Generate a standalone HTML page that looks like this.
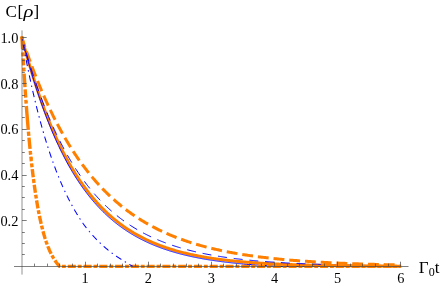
<!DOCTYPE html>
<html><head><meta charset="utf-8"><style>
html,body{margin:0;padding:0;background:#fff;}
svg{display:block;}
text{font-family:"Liberation Serif",serif;fill:#000;}
</style></head><body>
<svg width="441" height="287" viewBox="0 0 441 287">
<defs><clipPath id="cl"><rect x="0" y="0" width="325" height="287"/></clipPath><clipPath id="cr"><rect x="325" y="0" width="116" height="287"/></clipPath></defs>
<rect width="441" height="287" fill="#fff"/>
<path d="M242.12,263.89 L242.52,263.92 L242.92,263.96 L243.31,263.99 L243.71,264.03 L244.11,264.06 L244.51,264.10 L244.90,264.13 L245.30,264.16 L245.70,264.20 L246.10,264.23 L246.49,264.27 L246.89,264.30 L247.29,264.33 L247.69,264.36 L248.08,264.40 L248.48,264.43 L248.88,264.46 L249.28,264.49 L249.67,264.53 L250.07,264.56 L250.47,264.59 L250.87,264.62 L251.26,264.65 L251.66,264.68 L252.06,264.71 L252.46,264.74 L252.85,264.77 L253.25,264.80 L253.65,264.83 L254.05,264.86 L254.44,264.89 L254.84,264.92 L255.24,264.95 L255.64,264.97 L256.03,265.00 L256.43,265.03 L256.83,265.06 L257.23,265.09 L257.62,265.11 L258.02,265.14 L258.42,265.17 L258.82,265.20 L259.21,265.22 L259.61,265.25 L260.01,265.28 L260.41,265.30 L260.80,265.33 L261.20,265.35 L261.60,265.38 L262.00,265.41 L262.39,265.43 L262.79,265.46 L263.19,265.48 L263.59,265.51 L263.98,265.53 L264.38,265.56 L264.78,265.58 L265.18,265.60 L265.57,265.63 L265.97,265.65 L266.37,265.68 L266.77,265.70 L267.16,265.72 L267.56,265.75 L267.96,265.77 L268.36,265.79 L268.75,265.82 L269.15,265.84 L269.55,265.86 L269.95,265.88 L270.34,265.91 L270.74,265.93 L271.14,265.95 L271.54,265.97 L271.93,265.99 L272.33,266.01 L272.73,266.04 L273.13,266.06 L273.52,266.08 L273.92,266.10 L274.32,266.12 L274.72,266.14 L275.11,266.16 L275.51,266.18 L275.91,266.20 L276.31,266.22 L276.70,266.24 L277.10,266.26 L277.50,266.28 L277.90,266.30 L278.29,266.32 L278.69,266.34 L279.09,266.36 L279.49,266.38 L279.88,266.39 L280.28,266.40 L280.68,266.40 L281.08,266.40 L281.47,266.40 L281.87,266.40 L282.27,266.40 L282.67,266.40 L283.06,266.40 L283.46,266.40 L283.86,266.40 L284.26,266.40 L284.65,266.40 L285.05,266.40 L285.45,266.40 L285.85,266.40 L286.24,266.40 L286.64,266.40 L287.04,266.40 L287.44,266.40 L287.83,266.40 L288.23,266.40 L288.63,266.40 L289.03,266.40 L289.42,266.40 L289.82,266.40 L290.22,266.40 L290.62,266.40 L291.01,266.40 L291.41,266.40 L291.81,266.40 L292.21,266.40 L292.60,266.40 L293.00,266.40 L293.40,266.40 L293.80,266.40 L294.19,266.40 L294.59,266.40 L294.99,266.40 L295.39,266.40 L295.78,266.40 L296.18,266.40 L296.58,266.40 L296.98,266.40 L297.37,266.40 L297.77,266.40 L298.17,266.40 L298.57,266.40 L298.96,266.40 L299.36,266.40 L299.76,266.40 L300.16,266.40 L300.55,266.40 L300.95,266.40 L301.35,266.40 L301.75,266.40 L302.14,266.40 L302.54,266.40 L302.94,266.40 L303.34,266.40 L303.73,266.40 L304.13,266.40 L304.53,266.40 L304.93,266.40 L305.32,266.40 L305.72,266.40 L306.12,266.40 L306.51,266.40 L306.91,266.40 L307.31,266.40 L307.71,266.40 L308.10,266.40 L308.50,266.40 L308.90,266.40 L309.30,266.40 L309.69,266.40 L310.09,266.40 L310.49,266.40 L310.89,266.40 L311.28,266.40 L311.68,266.40 L312.08,266.40 L312.48,266.40 L312.87,266.40 L313.27,266.40 L313.67,266.40 L314.07,266.40 L314.46,266.40 L314.86,266.40 L315.26,266.40 L315.66,266.40 L316.05,266.40 L316.45,266.40 L316.85,266.40 L317.25,266.40 L317.64,266.40 L318.04,266.40 L318.44,266.40 L318.84,266.40 L319.23,266.40 L319.63,266.40 L320.03,266.40 L320.43,266.40 L320.82,266.40 L321.22,266.40 L321.62,266.40 L322.02,266.40 L322.41,266.40 L322.81,266.40 L323.21,266.40 L323.61,266.40 L324.00,266.40 L324.40,266.40 L324.80,266.40 L325.20,266.40 L325.59,266.40 L325.99,266.40 L326.39,266.40 L326.79,266.40 L327.18,266.40 L327.58,266.40 L327.98,266.40 L328.38,266.40 L328.77,266.40 L329.17,266.40 L329.57,266.40 L329.97,266.40 L330.36,266.40 L330.76,266.40 L331.16,266.40 L331.56,266.40 L331.95,266.40 L332.35,266.40 L332.75,266.40 L333.15,266.40 L333.54,266.40 L333.94,266.40 L334.34,266.40 L334.74,266.40 L335.13,266.40 L335.53,266.40 L335.93,266.40 L336.33,266.40 L336.72,266.40 L337.12,266.40 L337.52,266.40 L337.92,266.40 L338.31,266.40 L338.71,266.40 L339.11,266.40 L339.51,266.40 L339.90,266.40 L340.30,266.40 L340.70,266.40 L341.10,266.40 L341.49,266.40 L341.89,266.40 L342.29,266.40 L342.69,266.40 L343.08,266.40 L343.48,266.40 L343.88,266.40 L344.28,266.40 L344.67,266.40 L345.07,266.40 L345.47,266.40 L345.87,266.40 L346.26,266.40 L346.66,266.40 L347.06,266.40 L347.46,266.40 L347.85,266.40 L348.25,266.40 L348.65,266.40 L349.05,266.40 L349.44,266.40 L349.84,266.40 L350.24,266.40 L350.64,266.40 L351.03,266.40 L351.43,266.40 L351.83,266.40 L352.23,266.40 L352.62,266.40 L353.02,266.40 L353.42,266.40 L353.82,266.40 L354.21,266.40 L354.61,266.40 L355.01,266.40 L355.41,266.40 L355.80,266.40 L356.20,266.40 L356.60,266.40 L357.00,266.40 L357.39,266.40 L357.79,266.40 L358.19,266.40 L358.59,266.40 L358.98,266.40 L359.38,266.40 L359.78,266.40 L360.18,266.40 L360.57,266.40 L360.97,266.40 L361.37,266.40 L361.77,266.40 L362.16,266.40 L362.56,266.40 L362.96,266.40 L363.36,266.40 L363.75,266.40 L364.15,266.40 L364.55,266.40 L364.95,266.40 L365.34,266.40 L365.74,266.40 L366.14,266.40 L366.54,266.40 L366.93,266.40 L367.33,266.40 L367.73,266.40 L368.13,266.40 L368.52,266.40 L368.92,266.40 L369.32,266.40 L369.72,266.40 L370.11,266.40 L370.51,266.40 L370.91,266.40 L371.31,266.40 L371.70,266.40 L372.10,266.40 L372.50,266.40 L372.90,266.40 L373.29,266.40 L373.69,266.40 L374.09,266.40 L374.49,266.40 L374.88,266.40 L375.28,266.40 L375.68,266.40 L376.08,266.40 L376.47,266.40 L376.87,266.40 L377.27,266.40 L377.67,266.40 L378.06,266.40 L378.46,266.40 L378.86,266.40 L379.26,266.40 L379.65,266.40 L380.05,266.40 L380.45,266.40 L380.85,266.40 L381.24,266.40 L381.64,266.40 L382.04,266.40 L382.44,266.40 L382.83,266.40 L383.23,266.40 L383.63,266.40 L384.03,266.40 L384.42,266.40 L384.82,266.40 L385.22,266.40 L385.62,266.40 L386.01,266.40 L386.41,266.40 L386.81,266.40 L387.21,266.40 L387.60,266.40 L388.00,266.40 L388.40,266.40 L388.80,266.40 L389.19,266.40 L389.59,266.40 L389.99,266.40 L390.39,266.40 L390.78,266.40 L391.18,266.40 L391.58,266.40 L391.98,266.40 L392.37,266.40 L392.77,266.40 L393.17,266.40 L393.57,266.40 L393.96,266.40 L394.36,266.40 L394.76,266.40 L395.16,266.40 L395.55,266.40 L395.95,266.40 L396.35,266.40 L396.75,266.40 L397.14,266.40 L397.54,266.40 L397.94,266.40 L398.34,266.40 L398.73,266.40 L399.13,266.40 L399.53,266.40 L399.93,266.40 L400.32,266.40 L400.72,266.40" stroke="#0000ff" stroke-width="1.1" fill="none"/>
<path d="M22.00,38.00 L22.95,41.41 L23.90,44.77 L24.85,48.07 L25.80,51.33 L26.75,54.54 L27.70,57.71 L28.64,60.82 L29.59,63.89 L30.54,66.91 L31.49,69.89 L32.44,72.82 L33.39,75.71 L34.34,78.56 L35.29,81.36 L36.24,84.12 L37.19,86.84 L38.14,89.52 L39.09,92.16 L40.03,94.76 L40.98,97.32 L41.93,99.85 L42.88,102.33 L43.83,104.78 L44.78,107.19 L45.73,109.57 L46.68,111.91 L47.63,114.22 L48.58,116.49 L49.53,118.73 L50.48,120.93 L51.42,123.10 L52.37,125.24 L53.32,127.35 L54.27,129.42 L55.22,131.47 L56.17,133.48 L57.12,135.46 L58.07,137.42 L59.02,139.34 L59.97,141.24 L60.92,143.11 L61.87,144.95 L62.81,146.76 L63.76,148.55 L64.71,150.31 L65.66,152.04 L66.61,153.74 L67.56,155.43 L68.51,157.08 L69.46,158.71 L70.41,160.32 L71.36,161.90 L72.31,163.46 L73.26,165.00 L74.20,166.51 L75.15,168.00 L76.10,169.47 L77.05,170.92 L78.00,172.34 L78.95,173.75 L79.90,175.13 L80.85,176.49 L81.80,177.84 L82.75,179.16 L83.70,180.46 L84.65,181.74 L85.59,183.01 L86.54,184.25 L87.49,185.48 L88.44,186.68 L89.39,187.87 L90.34,189.05 L91.29,190.20 L92.24,191.34 L93.19,192.46 L94.14,193.56 L95.09,194.65 L96.04,195.72 L96.98,196.77 L97.93,197.81 L98.88,198.84 L99.83,199.85 L100.78,200.84 L101.73,201.82 L102.68,202.78 L103.63,203.73 L104.58,204.67 L105.53,205.59 L106.48,206.50 L107.43,207.39 L108.37,208.27 L109.32,209.14 L110.27,209.99 L111.22,210.83 L112.17,211.66 L113.12,212.48 L114.07,213.29 L115.02,214.08 L115.97,214.86 L116.92,215.63 L117.87,216.39 L118.82,217.13 L119.76,217.87 L120.71,218.59 L121.66,219.31 L122.61,220.01 L123.56,220.70 L124.51,221.38 L125.46,222.05 L126.41,222.72 L127.36,223.37 L128.31,224.01 L129.26,224.64 L130.21,225.27 L131.15,225.88 L132.10,226.49 L133.05,227.08 L134.00,227.67 L134.95,228.25 L135.90,228.82 L136.85,229.38 L137.80,229.93 L138.75,230.47 L139.70,231.01 L140.65,231.54 L141.60,232.06 L142.54,232.57 L143.49,233.08 L144.44,233.57 L145.39,234.06 L146.34,234.55 L147.29,235.02 L148.24,235.49 L149.19,235.95 L150.14,236.41 L151.09,236.85 L152.04,237.29 L152.99,237.73 L153.94,238.16 L154.88,238.58 L155.83,238.99 L156.78,239.40 L157.73,239.81 L158.68,240.20 L159.63,240.59 L160.58,240.98 L161.53,241.36 L162.48,241.73 L163.43,242.10 L164.38,242.46 L165.33,242.82 L166.27,243.17 L167.22,243.52 L168.17,243.86 L169.12,244.20 L170.07,244.53 L171.02,244.85 L171.97,245.18 L172.92,245.49 L173.87,245.80 L174.82,246.11 L175.77,246.41 L176.72,246.71 L177.66,247.01 L178.61,247.30 L179.56,247.58 L180.51,247.86 L181.46,248.14 L182.41,248.41 L183.36,248.68 L184.31,248.94 L185.26,249.20 L186.21,249.46 L187.16,249.71 L188.11,249.96 L189.05,250.21 L190.00,250.45 L190.95,250.69 L191.90,250.92 L192.85,251.15 L193.80,251.38 L194.75,251.61 L195.70,251.83 L196.65,252.04 L197.60,252.26 L198.55,252.47 L199.50,252.68 L200.44,252.88 L201.39,253.08 L202.34,253.28 L203.29,253.48 L204.24,253.67 L205.19,253.86 L206.14,254.05 L207.09,254.23 L208.04,254.41 L208.99,254.59 L209.94,254.77 L210.89,254.94 L211.83,255.11 L212.78,255.28 L213.73,255.45 L214.68,255.61 L215.63,255.77 L216.58,255.93 L217.53,256.09 L218.48,256.24 L219.43,256.39 L220.38,256.54 L221.33,256.69 L222.28,256.83 L223.22,256.98 L224.17,257.12 L225.12,257.26 L226.07,257.39 L227.02,257.53 L227.97,257.66 L228.92,257.79 L229.87,257.92 L230.82,258.05 L231.77,258.17 L232.72,258.29 L233.67,258.41 L234.61,258.53 L235.56,258.65 L236.51,258.77 L237.46,258.88 L238.41,258.99 L239.36,259.10 L240.31,259.21 L241.26,259.32 L242.21,259.42 L243.16,259.53 L244.11,259.63 L245.06,259.73 L246.00,259.83 L246.95,259.93 L247.90,260.03 L248.85,260.12 L249.80,260.22 L250.75,260.31 L251.70,260.40 L252.65,260.49 L253.60,260.58 L254.55,260.66 L255.50,260.75 L256.45,260.83 L257.39,260.92 L258.34,261.00 L259.29,261.08 L260.24,261.16 L261.19,261.24 L262.14,261.31 L263.09,261.39 L264.04,261.46 L264.99,261.54 L265.94,261.61 L266.89,261.68 L267.84,261.75 L268.78,261.82 L269.73,261.89 L270.68,261.96 L271.63,262.02 L272.58,262.09 L273.53,262.15 L274.48,262.22 L275.43,262.28 L276.38,262.34 L277.33,262.40 L278.28,262.46 L279.23,262.52 L280.18,262.58 L281.12,262.63 L282.07,262.69 L283.02,262.75 L283.97,262.80 L284.92,262.85 L285.87,262.91 L286.82,262.96 L287.77,263.01 L288.72,263.06 L289.67,263.11 L290.62,263.16 L291.57,263.21 L292.51,263.26 L293.46,263.30 L294.41,263.35 L295.36,263.40 L296.31,263.44 L297.26,263.48 L298.21,263.53 L299.16,263.57 L300.11,263.61 L301.06,263.65 L302.01,263.70 L302.96,263.74 L303.90,263.78 L304.85,263.81 L305.80,263.85 L306.75,263.89 L307.70,263.93 L308.65,263.97 L309.60,264.00 L310.55,264.04 L311.50,264.07 L312.45,264.11 L313.40,264.14 L314.35,264.18 L315.29,264.21 L316.24,264.24 L317.19,264.27 L318.14,264.31 L319.09,264.34 L320.04,264.37 L320.99,264.40 L321.94,264.43 L322.89,264.46 L323.84,264.49 L324.79,264.51 L325.74,264.54 L326.68,264.57 L327.63,264.60 L328.58,264.62 L329.53,264.65 L330.48,264.68 L331.43,264.70 L332.38,264.73 L333.33,264.75 L334.28,264.78 L335.23,264.80 L336.18,264.83 L337.13,264.85 L338.07,264.87 L339.02,264.90 L339.97,264.92 L340.92,264.94 L341.87,264.96 L342.82,264.98 L343.77,265.00 L344.72,265.03 L345.67,265.05 L346.62,265.07 L347.57,265.09 L348.52,265.11 L349.46,265.12 L350.41,265.14 L351.36,265.16 L352.31,265.18 L353.26,265.20 L354.21,265.22 L355.16,265.23 L356.11,265.25 L357.06,265.27 L358.01,265.29 L358.96,265.30 L359.91,265.32 L360.85,265.34 L361.80,265.35 L362.75,265.37 L363.70,265.38 L364.65,265.40 L365.60,265.41 L366.55,265.43 L367.50,265.44 L368.45,265.46 L369.40,265.47 L370.35,265.48 L371.30,265.50 L372.24,265.51 L373.19,265.52 L374.14,265.54 L375.09,265.55 L376.04,265.56 L376.99,265.58 L377.94,265.59 L378.89,265.60 L379.84,265.61 L380.79,265.62 L381.74,265.64 L382.69,265.65 L383.63,265.66 L384.58,265.67 L385.53,265.68 L386.48,265.69 L387.43,265.70 L388.38,265.71 L389.33,265.72 L390.28,265.73 L391.23,265.74 L392.18,265.75 L393.13,265.76 L394.08,265.77 L395.02,265.78 L395.97,265.79 L396.92,265.80 L397.87,265.81 L398.82,265.82 L399.77,265.83 L400.72,265.83" stroke="#0000ff" stroke-width="1" fill="none" stroke-linecap="square" stroke-dasharray="7.885 7.885" clip-path="url(#cr)"/>
<path d="M22.00,38.00 L22.95,41.57 L23.89,45.09 L24.84,48.55 L25.79,51.96 L26.73,55.32 L27.68,58.63 L28.63,61.89 L29.57,65.10 L30.52,68.26 L31.47,71.37 L32.41,74.44 L33.36,77.46 L34.31,80.43 L35.26,83.36 L36.20,86.24 L37.15,89.08 L38.10,91.88 L39.04,94.63 L39.99,97.35 L40.94,100.02 L41.88,102.65 L42.83,105.24 L43.78,107.79 L44.72,110.30 L45.67,112.77 L46.62,115.21 L47.56,117.61 L48.51,119.97 L49.46,122.29 L50.40,124.58 L51.35,126.84 L52.30,129.06 L53.24,131.24 L54.19,133.39 L55.14,135.51 L56.08,137.60 L57.03,139.65 L57.98,141.68 L58.93,143.67 L59.87,145.63 L60.82,147.56 L61.77,149.46 L62.71,151.33 L63.66,153.17 L64.61,154.99 L65.55,156.77 L66.50,158.53 L67.45,160.26 L68.39,161.97 L69.34,163.64 L70.29,165.30 L71.23,166.92 L72.18,168.52 L73.13,170.10 L74.07,171.65 L75.02,173.18 L75.97,174.68 L76.91,176.16 L77.86,177.62 L78.81,179.05 L79.75,180.46 L80.70,181.85 L81.65,183.22 L82.60,184.57 L83.54,185.89 L84.49,187.20 L85.44,188.48 L86.38,189.75 L87.33,190.99 L88.28,192.22 L89.22,193.42 L90.17,194.61 L91.12,195.78 L92.06,196.93 L93.01,198.06 L93.96,199.17 L94.90,200.27 L95.85,201.35 L96.80,202.41 L97.74,203.45 L98.69,204.48 L99.64,205.49 L100.58,206.49 L101.53,207.47 L102.48,208.44 L103.42,209.38 L104.37,210.32 L105.32,211.24 L106.27,212.14 L107.21,213.04 L108.16,213.91 L109.11,214.77 L110.05,215.62 L111.00,216.46 L111.95,217.28 L112.89,218.09 L113.84,218.89 L114.79,219.67 L115.73,220.44 L116.68,221.20 L117.63,221.95 L118.57,222.68 L119.52,223.40 L120.47,224.12 L121.41,224.82 L122.36,225.50 L123.31,226.18 L124.25,226.85 L125.20,227.50 L126.15,228.15 L127.09,228.78 L128.04,229.41 L128.99,230.02 L129.94,230.63 L130.88,231.22 L131.83,231.81 L132.78,232.39 L133.72,232.95 L134.67,233.51 L135.62,234.06 L136.56,234.60 L137.51,235.13 L138.46,235.65 L139.40,236.17 L140.35,236.67 L141.30,237.17 L142.24,237.66 L143.19,238.14 L144.14,238.62 L145.08,239.08 L146.03,239.54 L146.98,239.99 L147.92,240.44 L148.87,240.87 L149.82,241.30 L150.76,241.72 L151.71,242.14 L152.66,242.55 L153.61,242.95 L154.55,243.34 L155.50,243.73 L156.45,244.12 L157.39,244.49 L158.34,244.86 L159.29,245.23 L160.23,245.58 L161.18,245.94 L162.13,246.28 L163.07,246.62 L164.02,246.96 L164.97,247.29 L165.91,247.61 L166.86,247.93 L167.81,248.25 L168.75,248.55 L169.70,248.86 L170.65,249.16 L171.59,249.45 L172.54,249.74 L173.49,250.02 L174.43,250.30 L175.38,250.58 L176.33,250.85 L177.28,251.11 L178.22,251.37 L179.17,251.63 L180.12,251.88 L181.06,252.13 L182.01,252.38 L182.96,252.62 L183.90,252.85 L184.85,253.08 L185.80,253.31 L186.74,253.54 L187.69,253.76 L188.64,253.98 L189.58,254.19 L190.53,254.40 L191.48,254.61 L192.42,254.81 L193.37,255.01 L194.32,255.20 L195.26,255.40 L196.21,255.59 L197.16,255.77 L198.10,255.96 L199.05,256.14 L200.00,256.31 L200.95,256.49 L201.89,256.66 L202.84,256.83 L203.79,257.00 L204.73,257.16 L205.68,257.32 L206.63,257.48 L207.57,257.63 L208.52,257.78 L209.47,257.93 L210.41,258.08 L211.36,258.22 L212.31,258.37 L213.25,258.51 L214.20,258.64 L215.15,258.78 L216.09,258.91 L217.04,259.04 L217.99,259.17 L218.93,259.30 L219.88,259.42 L220.83,259.54 L221.77,259.66 L222.72,259.78 L223.67,259.90 L224.62,260.01 L225.56,260.12 L226.51,260.23 L227.46,260.34 L228.40,260.45 L229.35,260.55 L230.30,260.66 L231.24,260.76 L232.19,260.86 L233.14,260.95 L234.08,261.05 L235.03,261.14 L235.98,261.24 L236.92,261.33 L237.87,261.42 L238.82,261.50 L239.76,261.59 L240.71,261.68 L241.66,261.76 L242.60,261.84 L243.55,261.92 L244.50,262.00 L245.44,262.08 L246.39,262.16 L247.34,262.23 L248.29,262.30 L249.23,262.38 L250.18,262.45 L251.13,262.52 L252.07,262.59 L253.02,262.66 L253.97,262.72 L254.91,262.79 L255.86,262.85 L256.81,262.92 L257.75,262.98 L258.70,263.04 L259.65,263.10 L260.59,263.16 L261.54,263.22 L262.49,263.27 L263.43,263.33 L264.38,263.38 L265.33,263.44 L266.27,263.49 L267.22,263.54 L268.17,263.59 L269.11,263.64 L270.06,263.69 L271.01,263.74 L271.96,263.79 L272.90,263.84 L273.85,263.88 L274.80,263.93 L275.74,263.97 L276.69,264.02 L277.64,264.06 L278.58,264.10 L279.53,264.14 L280.48,264.18 L281.42,264.22 L282.37,264.26 L283.32,264.30 L284.26,264.34 L285.21,264.38 L286.16,264.41 L287.10,264.45 L288.05,264.48 L289.00,264.52 L289.94,264.55 L290.89,264.59 L291.84,264.62 L292.78,264.65 L293.73,264.68 L294.68,264.71 L295.63,264.75 L296.57,264.78 L297.52,264.81 L298.47,264.83 L299.41,264.86 L300.36,264.89 L301.31,264.92 L302.25,264.95 L303.20,264.97 L304.15,265.00 L305.09,265.02 L306.04,265.05 L306.99,265.07 L307.93,265.10 L308.88,265.12 L309.83,265.14 L310.77,265.17 L311.72,265.19 L312.67,265.21 L313.61,265.23 L314.56,265.26 L315.51,265.28 L316.45,265.30 L317.40,265.32 L318.35,265.34 L319.30,265.36 L320.24,265.38 L321.19,265.40 L322.14,265.41 L323.08,265.43 L324.03,265.45 L324.98,265.47 L325.92,265.48 L326.87,265.50 L327.82,265.52 L328.76,265.53 L329.71,265.55 L330.66,265.57 L331.60,265.58 L332.55,265.60 L333.50,265.61 L334.44,265.63 L335.39,265.64 L336.34,265.65 L337.28,265.67 L338.23,265.68 L339.18,265.70 L340.12,265.71 L341.07,265.72 L342.02,265.73 L342.97,265.75 L343.91,265.76 L344.86,265.77 L345.81,265.78 L346.75,265.79 L347.70,265.81 L348.65,265.82 L349.59,265.83 L350.54,265.84 L351.49,265.85 L352.43,265.86 L353.38,265.87 L354.33,265.88 L355.27,265.89 L356.22,265.90 L357.17,265.91 L358.11,265.92 L359.06,265.93 L360.01,265.93 L360.95,265.94 L361.90,265.95 L362.85,265.96 L363.79,265.97 L364.74,265.98 L365.69,265.98 L366.64,265.99 L367.58,266.00 L368.53,266.01 L369.48,266.02 L370.42,266.02 L371.37,266.03 L372.32,266.04 L373.26,266.04 L374.21,266.05 L375.16,266.06 L376.10,266.06 L377.05,266.07 L378.00,266.08 L378.94,266.08 L379.89,266.09 L380.84,266.09 L381.78,266.10 L382.73,266.11 L383.68,266.11 L384.62,266.12 L385.57,266.12 L386.52,266.13 L387.46,266.13 L388.41,266.14 L389.36,266.14 L390.31,266.15 L391.25,266.15 L392.20,266.16 L393.15,266.16 L394.09,266.17 L395.04,266.17 L395.99,266.18 L396.93,266.18 L397.88,266.18 L398.83,266.19 L399.77,266.19" stroke="#ff7f00" stroke-width="3.0" stroke-linecap="square" fill="none"/>
<path d="M22.00,38.00 L22.95,40.88 L23.89,43.72 L24.84,46.52 L25.79,49.29 L26.73,52.03 L27.68,54.73 L28.63,57.39 L29.57,60.02 L30.52,62.62 L31.47,65.19 L32.41,67.72 L33.36,70.23 L34.31,72.70 L35.26,75.14 L36.20,77.55 L37.15,79.92 L38.10,82.27 L39.04,84.59 L39.99,86.88 L40.94,89.14 L41.88,91.38 L42.83,93.58 L43.78,95.76 L44.72,97.91 L45.67,100.03 L46.62,102.12 L47.56,104.19 L48.51,106.24 L49.46,108.25 L50.40,110.25 L51.35,112.21 L52.30,114.15 L53.24,116.07 L54.19,117.96 L55.14,119.83 L56.08,121.68 L57.03,123.50 L57.98,125.30 L58.93,127.08 L59.87,128.83 L60.82,130.57 L61.77,132.28 L62.71,133.97 L63.66,135.64 L64.61,137.28 L65.55,138.91 L66.50,140.51 L67.45,142.10 L68.39,143.67 L69.34,145.21 L70.29,146.74 L71.23,148.24 L72.18,149.73 L73.13,151.20 L74.07,152.65 L75.02,154.09 L75.97,155.50 L76.91,156.90 L77.86,158.28 L78.81,159.64 L79.75,160.98 L80.70,162.31 L81.65,163.62 L82.60,164.92 L83.54,166.19 L84.49,167.46 L85.44,168.70 L86.38,169.93 L87.33,171.15 L88.28,172.35 L89.22,173.53 L90.17,174.70 L91.12,175.86 L92.06,177.00 L93.01,178.12 L93.96,179.24 L94.90,180.33 L95.85,181.42 L96.80,182.49 L97.74,183.54 L98.69,184.59 L99.64,185.62 L100.58,186.64 L101.53,187.64 L102.48,188.63 L103.42,189.61 L104.37,190.58 L105.32,191.53 L106.27,192.48 L107.21,193.41 L108.16,194.33 L109.11,195.24 L110.05,196.13 L111.00,197.02 L111.95,197.89 L112.89,198.75 L113.84,199.61 L114.79,200.45 L115.73,201.28 L116.68,202.10 L117.63,202.91 L118.57,203.71 L119.52,204.50 L120.47,205.28 L121.41,206.05 L122.36,206.81 L123.31,207.56 L124.25,208.30 L125.20,209.03 L126.15,209.75 L127.09,210.47 L128.04,211.17 L128.99,211.87 L129.94,212.55 L130.88,213.23 L131.83,213.90 L132.78,214.56 L133.72,215.21 L134.67,215.86 L135.62,216.50 L136.56,217.12 L137.51,217.75 L138.46,218.36 L139.40,218.96 L140.35,219.56 L141.30,220.15 L142.24,220.73 L143.19,221.31 L144.14,221.88 L145.08,222.44 L146.03,222.99 L146.98,223.54 L147.92,224.08 L148.87,224.61 L149.82,225.14 L150.76,225.66 L151.71,226.17 L152.66,226.68 L153.61,227.18 L154.55,227.67 L155.50,228.16 L156.45,228.64 L157.39,229.12 L158.34,229.59 L159.29,230.05 L160.23,230.51 L161.18,230.96 L162.13,231.41 L163.07,231.85 L164.02,232.28 L164.97,232.71 L165.91,233.14 L166.86,233.55 L167.81,233.97 L168.75,234.38 L169.70,234.78 L170.65,235.18 L171.59,235.57 L172.54,235.96 L173.49,236.34 L174.43,236.72 L175.38,237.10 L176.33,237.46 L177.28,237.83 L178.22,238.19 L179.17,238.54 L180.12,238.89 L181.06,239.24 L182.01,239.58 L182.96,239.92 L183.90,240.25 L184.85,240.58 L185.80,240.91 L186.74,241.23 L187.69,241.55 L188.64,241.86 L189.58,242.17 L190.53,242.47 L191.48,242.78 L192.42,243.07 L193.37,243.37 L194.32,243.66 L195.26,243.94 L196.21,244.23 L197.16,244.51 L198.10,244.78 L199.05,245.05 L200.00,245.32 L200.95,245.59 L201.89,245.85 L202.84,246.11 L203.79,246.36 L204.73,246.62 L205.68,246.87 L206.63,247.11 L207.57,247.36 L208.52,247.59 L209.47,247.83 L210.41,248.07 L211.36,248.30 L212.31,248.52 L213.25,248.75 L214.20,248.97 L215.15,249.19 L216.09,249.41 L217.04,249.62 L217.99,249.83 L218.93,250.04 L219.88,250.25 L220.83,250.45 L221.77,250.65 L222.72,250.85 L223.67,251.05 L224.62,251.24 L225.56,251.43 L226.51,251.62 L227.46,251.81 L228.40,251.99 L229.35,252.17 L230.30,252.35 L231.24,252.53 L232.19,252.70 L233.14,252.87 L234.08,253.04 L235.03,253.21 L235.98,253.38 L236.92,253.54 L237.87,253.71 L238.82,253.87 L239.76,254.02 L240.71,254.18 L241.66,254.33 L242.60,254.48 L243.55,254.63 L244.50,254.78 L245.44,254.93 L246.39,255.07 L247.34,255.22 L248.29,255.36 L249.23,255.50 L250.18,255.63 L251.13,255.77 L252.07,255.90 L253.02,256.04 L253.97,256.17 L254.91,256.29 L255.86,256.42 L256.81,256.55 L257.75,256.67 L258.70,256.79 L259.65,256.92 L260.59,257.03 L261.54,257.15 L262.49,257.27 L263.43,257.38 L264.38,257.50 L265.33,257.61 L266.27,257.72 L267.22,257.83 L268.17,257.94 L269.11,258.04 L270.06,258.15 L271.01,258.25 L271.96,258.36 L272.90,258.46 L273.85,258.56 L274.80,258.66 L275.74,258.75 L276.69,258.85 L277.64,258.95 L278.58,259.04 L279.53,259.13 L280.48,259.22 L281.42,259.31 L282.37,259.40 L283.32,259.49 L284.26,259.58 L285.21,259.66 L286.16,259.75 L287.10,259.83 L288.05,259.92 L289.00,260.00 L289.94,260.08 L290.89,260.16 L291.84,260.24 L292.78,260.31 L293.73,260.39 L294.68,260.47 L295.63,260.54 L296.57,260.61 L297.52,260.69 L298.47,260.76 L299.41,260.83 L300.36,260.90 L301.31,260.97 L302.25,261.04 L303.20,261.11 L304.15,261.17 L305.09,261.24 L306.04,261.30 L306.99,261.37 L307.93,261.43 L308.88,261.49 L309.83,261.56 L310.77,261.62 L311.72,261.68 L312.67,261.74 L313.61,261.79 L314.56,261.85 L315.51,261.91 L316.45,261.97 L317.40,262.02 L318.35,262.08 L319.30,262.13 L320.24,262.19 L321.19,262.24 L322.14,262.29 L323.08,262.34 L324.03,262.39 L324.98,262.44 L325.92,262.49 L326.87,262.54 L327.82,262.59 L328.76,262.64 L329.71,262.69 L330.66,262.73 L331.60,262.78 L332.55,262.83 L333.50,262.87 L334.44,262.92 L335.39,262.96 L336.34,263.00 L337.28,263.05 L338.23,263.09 L339.18,263.13 L340.12,263.17 L341.07,263.21 L342.02,263.25 L342.97,263.29 L343.91,263.33 L344.86,263.37 L345.81,263.41 L346.75,263.44 L347.70,263.48 L348.65,263.52 L349.59,263.56 L350.54,263.59 L351.49,263.63 L352.43,263.66 L353.38,263.70 L354.33,263.73 L355.27,263.76 L356.22,263.80 L357.17,263.83 L358.11,263.86 L359.06,263.89 L360.01,263.93 L360.95,263.96 L361.90,263.99 L362.85,264.02 L363.79,264.05 L364.74,264.08 L365.69,264.11 L366.64,264.14 L367.58,264.16 L368.53,264.19 L369.48,264.22 L370.42,264.25 L371.37,264.27 L372.32,264.30 L373.26,264.33 L374.21,264.35 L375.16,264.38 L376.10,264.40 L377.05,264.43 L378.00,264.45 L378.94,264.48 L379.89,264.50 L380.84,264.53 L381.78,264.55 L382.73,264.57 L383.68,264.60 L384.62,264.62 L385.57,264.64 L386.52,264.66 L387.46,264.69 L388.41,264.71 L389.36,264.73 L390.31,264.75 L391.25,264.77 L392.20,264.79 L393.15,264.81 L394.09,264.83 L395.04,264.85 L395.99,264.87 L396.93,264.89 L397.88,264.91 L398.83,264.93 L399.77,264.95" stroke="#ff7f00" stroke-width="3.0" fill="none" stroke-linecap="square" stroke-dasharray="7.885 7.885"/>
<path d="M22.00,38.00 L22.55,40.18 L23.10,42.34 L23.66,44.48 L24.21,46.60 L24.76,48.70 L25.31,50.78 L25.86,52.85 L26.41,54.89 L26.97,56.91 L27.52,58.91 L28.07,60.90 L28.62,62.86 L29.17,64.81 L29.72,66.74 L30.28,68.65 L30.83,70.54 L31.38,72.41 L31.93,74.27 L32.48,76.11 L33.03,77.93 L33.59,79.74 L34.14,81.52 L34.69,83.30 L35.24,85.05 L35.79,86.79 L36.34,88.51 L36.90,90.21 L37.45,91.90 L38.00,93.57 L38.55,95.23 L39.10,96.87 L39.65,98.50 L40.21,100.11 L40.76,101.71 L41.31,103.29 L41.86,104.85 L42.41,106.40 L42.96,107.94 L43.52,109.46 L44.07,110.97 L44.62,112.46 L45.17,113.94 L45.72,115.40 L46.27,116.85 L46.83,118.29 L47.38,119.71 L47.93,121.13 L48.48,122.52 L49.03,123.91 L49.58,125.28 L50.14,126.63 L50.69,127.98 L51.24,129.31 L51.79,130.63 L52.34,131.94 L52.89,133.23 L53.45,134.52 L54.00,135.79 L54.55,137.05 L55.10,138.29 L55.65,139.53 L56.20,140.75 L56.76,141.96 L57.31,143.16 L57.86,144.35 L58.41,145.53 L58.96,146.70 L59.51,147.85 L60.07,149.00 L60.62,150.13 L61.17,151.25 L61.72,152.37 L62.27,153.47 L62.82,154.56 L63.38,155.64 L63.93,156.71 L64.48,157.77 L65.03,158.83 L65.58,159.87 L66.13,160.90 L66.69,161.92 L67.24,162.93 L67.79,163.93 L68.34,164.93 L68.89,165.91 L69.44,166.89 L70.00,167.85 L70.55,168.81 L71.10,169.75 L71.65,170.69 L72.20,171.62 L72.75,172.54 L73.31,173.45 L73.86,174.36 L74.41,175.25 L74.96,176.14 L75.51,177.01 L76.06,177.88 L76.62,178.75 L77.17,179.60 L77.72,180.44 L78.27,181.28 L78.82,182.11 L79.38,182.93 L79.93,183.75 L80.48,184.55 L81.03,185.35 L81.58,186.14 L82.13,186.92 L82.69,187.70 L83.24,188.47 L83.79,189.23 L84.34,189.98 L84.89,190.73 L85.44,191.47 L86.00,192.20 L86.55,192.93 L87.10,193.65 L87.65,194.36 L88.20,195.07 L88.75,195.77 L89.31,196.46 L89.86,197.15 L90.41,197.83 L90.96,198.50 L91.51,199.16 L92.06,199.83 L92.62,200.48 L93.17,201.13 L93.72,201.77 L94.27,202.41 L94.82,203.04 L95.37,203.66 L95.93,204.28 L96.48,204.89 L97.03,205.50 L97.58,206.10 L98.13,206.69 L98.68,207.28 L99.24,207.86 L99.79,208.44 L100.34,209.02 L100.89,209.58 L101.44,210.15 L101.99,210.70 L102.55,211.25 L103.10,211.80 L103.65,212.34 L104.20,212.88 L104.75,213.41 L105.30,213.93 L105.86,214.46 L106.41,214.97 L106.96,215.48 L107.51,215.99 L108.06,216.49 L108.61,216.99 L109.17,217.48 L109.72,217.97 L110.27,218.45 L110.82,218.93 L111.37,219.40 L111.92,219.87 L112.48,220.34 L113.03,220.80 L113.58,221.25 L114.13,221.71 L114.68,222.15 L115.23,222.60 L115.79,223.04 L116.34,223.47 L116.89,223.90 L117.44,224.33 L117.99,224.75 L118.54,225.17 L119.10,225.59 L119.65,226.00 L120.20,226.41 L120.75,226.81 L121.30,227.21 L121.85,227.60 L122.41,228.00 L122.96,228.38 L123.51,228.77 L124.06,229.15 L124.61,229.53 L125.16,229.90 L125.72,230.27 L126.27,230.64 L126.82,231.00 L127.37,231.36 L127.92,231.72 L128.47,232.07 L129.03,232.42 L129.58,232.77 L130.13,233.11 L130.68,233.45 L131.23,233.79 L131.78,234.12 L132.34,234.45 L132.89,234.78 L133.44,235.10 L133.99,235.43 L134.54,235.74 L135.10,236.06 L135.65,236.37 L136.20,236.68 L136.75,236.99 L137.30,237.29 L137.85,237.59 L138.41,237.89 L138.96,238.18 L139.51,238.48 L140.06,238.77 L140.61,239.05 L141.16,239.34 L141.72,239.62 L142.27,239.90 L142.82,240.17 L143.37,240.45 L143.92,240.72 L144.47,240.98 L145.03,241.25 L145.58,241.51 L146.13,241.77 L146.68,242.03 L147.23,242.29 L147.78,242.54 L148.34,242.79 L148.89,243.04 L149.44,243.29 L149.99,243.53 L150.54,243.77 L151.09,244.01 L151.65,244.25 L152.20,244.49 L152.75,244.72 L153.30,244.95 L153.85,245.18 L154.40,245.40 L154.96,245.63 L155.51,245.85 L156.06,246.07 L156.61,246.29 L157.16,246.50 L157.71,246.72 L158.27,246.93 L158.82,247.14 L159.37,247.34 L159.92,247.55 L160.47,247.75 L161.02,247.96 L161.58,248.16 L162.13,248.35 L162.68,248.55 L163.23,248.74 L163.78,248.94 L164.33,249.13 L164.89,249.32 L165.44,249.50 L165.99,249.69 L166.54,249.87 L167.09,250.05 L167.64,250.23 L168.20,250.41 L168.75,250.59 L169.30,250.77 L169.85,250.94 L170.40,251.11 L170.95,251.28 L171.51,251.45 L172.06,251.62 L172.61,251.78 L173.16,251.95 L173.71,252.11 L174.26,252.27 L174.82,252.43 L175.37,252.59 L175.92,252.74 L176.47,252.90 L177.02,253.05 L177.57,253.20 L178.13,253.35 L178.68,253.50 L179.23,253.65 L179.78,253.79 L180.33,253.94 L180.88,254.08 L181.44,254.23 L181.99,254.37 L182.54,254.51 L183.09,254.64 L183.64,254.78 L184.19,254.92 L184.75,255.05 L185.30,255.18 L185.85,255.32 L186.40,255.45 L186.95,255.57 L187.51,255.70 L188.06,255.83 L188.61,255.96 L189.16,256.08 L189.71,256.20 L190.26,256.33 L190.82,256.45 L191.37,256.57 L191.92,256.68 L192.47,256.80 L193.02,256.92 L193.57,257.03 L194.13,257.15 L194.68,257.26 L195.23,257.37 L195.78,257.48 L196.33,257.59 L196.88,257.70 L197.44,257.81 L197.99,257.92 L198.54,258.02 L199.09,258.13 L199.64,258.23 L200.19,258.34 L200.75,258.44 L201.30,258.54 L201.85,258.64 L202.40,258.74 L202.95,258.84 L203.50,258.93 L204.06,259.03 L204.61,259.13 L205.16,259.22 L205.71,259.31 L206.26,259.41 L206.81,259.50 L207.37,259.59 L207.92,259.68 L208.47,259.77 L209.02,259.86 L209.57,259.94 L210.12,260.03 L210.68,260.12 L211.23,260.20 L211.78,260.29 L212.33,260.37 L212.88,260.45 L213.43,260.54 L213.99,260.62 L214.54,260.70 L215.09,260.78 L215.64,260.86 L216.19,260.93 L216.74,261.01 L217.30,261.09 L217.85,261.16 L218.40,261.24 L218.95,261.31 L219.50,261.39 L220.05,261.46 L220.61,261.53 L221.16,261.61 L221.71,261.68 L222.26,261.75 L222.81,261.82 L223.36,261.89 L223.92,261.95 L224.47,262.02 L225.02,262.09 L225.57,262.16 L226.12,262.22 L226.67,262.29 L227.23,262.35 L227.78,262.42 L228.33,262.48 L228.88,262.54 L229.43,262.60 L229.98,262.67 L230.54,262.73 L231.09,262.79 L231.64,262.85 L232.19,262.91 L232.74,262.97 L233.29,263.02 L233.85,263.08 L234.40,263.14 L234.95,263.20 L235.50,263.25 L236.05,263.31 L236.60,263.36 L237.16,263.42 L237.71,263.47 L238.26,263.52 L238.81,263.58 L239.36,263.63 L239.91,263.68 L240.47,263.73 L241.02,263.78 L241.57,263.84 L242.12,263.89" stroke="#0000ff" stroke-width="0.95" fill="none"/>
<path d="M22.00,38.00 L22.95,41.41 L23.90,44.77 L24.85,48.07 L25.80,51.33 L26.75,54.54 L27.70,57.71 L28.64,60.82 L29.59,63.89 L30.54,66.91 L31.49,69.89 L32.44,72.82 L33.39,75.71 L34.34,78.56 L35.29,81.36 L36.24,84.12 L37.19,86.84 L38.14,89.52 L39.09,92.16 L40.03,94.76 L40.98,97.32 L41.93,99.85 L42.88,102.33 L43.83,104.78 L44.78,107.19 L45.73,109.57 L46.68,111.91 L47.63,114.22 L48.58,116.49 L49.53,118.73 L50.48,120.93 L51.42,123.10 L52.37,125.24 L53.32,127.35 L54.27,129.42 L55.22,131.47 L56.17,133.48 L57.12,135.46 L58.07,137.42 L59.02,139.34 L59.97,141.24 L60.92,143.11 L61.87,144.95 L62.81,146.76 L63.76,148.55 L64.71,150.31 L65.66,152.04 L66.61,153.74 L67.56,155.43 L68.51,157.08 L69.46,158.71 L70.41,160.32 L71.36,161.90 L72.31,163.46 L73.26,165.00 L74.20,166.51 L75.15,168.00 L76.10,169.47 L77.05,170.92 L78.00,172.34 L78.95,173.75 L79.90,175.13 L80.85,176.49 L81.80,177.84 L82.75,179.16 L83.70,180.46 L84.65,181.74 L85.59,183.01 L86.54,184.25 L87.49,185.48 L88.44,186.68 L89.39,187.87 L90.34,189.05 L91.29,190.20 L92.24,191.34 L93.19,192.46 L94.14,193.56 L95.09,194.65 L96.04,195.72 L96.98,196.77 L97.93,197.81 L98.88,198.84 L99.83,199.85 L100.78,200.84 L101.73,201.82 L102.68,202.78 L103.63,203.73 L104.58,204.67 L105.53,205.59 L106.48,206.50 L107.43,207.39 L108.37,208.27 L109.32,209.14 L110.27,209.99 L111.22,210.83 L112.17,211.66 L113.12,212.48 L114.07,213.29 L115.02,214.08 L115.97,214.86 L116.92,215.63 L117.87,216.39 L118.82,217.13 L119.76,217.87 L120.71,218.59 L121.66,219.31 L122.61,220.01 L123.56,220.70 L124.51,221.38 L125.46,222.05 L126.41,222.72 L127.36,223.37 L128.31,224.01 L129.26,224.64 L130.21,225.27 L131.15,225.88 L132.10,226.49 L133.05,227.08 L134.00,227.67 L134.95,228.25 L135.90,228.82 L136.85,229.38 L137.80,229.93 L138.75,230.47 L139.70,231.01 L140.65,231.54 L141.60,232.06 L142.54,232.57 L143.49,233.08 L144.44,233.57 L145.39,234.06 L146.34,234.55 L147.29,235.02 L148.24,235.49 L149.19,235.95 L150.14,236.41 L151.09,236.85 L152.04,237.29 L152.99,237.73 L153.94,238.16 L154.88,238.58 L155.83,238.99 L156.78,239.40 L157.73,239.81 L158.68,240.20 L159.63,240.59 L160.58,240.98 L161.53,241.36 L162.48,241.73 L163.43,242.10 L164.38,242.46 L165.33,242.82 L166.27,243.17 L167.22,243.52 L168.17,243.86 L169.12,244.20 L170.07,244.53 L171.02,244.85 L171.97,245.18 L172.92,245.49 L173.87,245.80 L174.82,246.11 L175.77,246.41 L176.72,246.71 L177.66,247.01 L178.61,247.30 L179.56,247.58 L180.51,247.86 L181.46,248.14 L182.41,248.41 L183.36,248.68 L184.31,248.94 L185.26,249.20 L186.21,249.46 L187.16,249.71 L188.11,249.96 L189.05,250.21 L190.00,250.45 L190.95,250.69 L191.90,250.92 L192.85,251.15 L193.80,251.38 L194.75,251.61 L195.70,251.83 L196.65,252.04 L197.60,252.26 L198.55,252.47 L199.50,252.68 L200.44,252.88 L201.39,253.08 L202.34,253.28 L203.29,253.48 L204.24,253.67 L205.19,253.86 L206.14,254.05 L207.09,254.23 L208.04,254.41 L208.99,254.59 L209.94,254.77 L210.89,254.94 L211.83,255.11 L212.78,255.28 L213.73,255.45 L214.68,255.61 L215.63,255.77 L216.58,255.93 L217.53,256.09 L218.48,256.24 L219.43,256.39 L220.38,256.54 L221.33,256.69 L222.28,256.83 L223.22,256.98 L224.17,257.12 L225.12,257.26 L226.07,257.39 L227.02,257.53 L227.97,257.66 L228.92,257.79 L229.87,257.92 L230.82,258.05 L231.77,258.17 L232.72,258.29 L233.67,258.41 L234.61,258.53 L235.56,258.65 L236.51,258.77 L237.46,258.88 L238.41,258.99 L239.36,259.10 L240.31,259.21 L241.26,259.32 L242.21,259.42 L243.16,259.53 L244.11,259.63 L245.06,259.73 L246.00,259.83 L246.95,259.93 L247.90,260.03 L248.85,260.12 L249.80,260.22 L250.75,260.31 L251.70,260.40 L252.65,260.49 L253.60,260.58 L254.55,260.66 L255.50,260.75 L256.45,260.83 L257.39,260.92 L258.34,261.00 L259.29,261.08 L260.24,261.16 L261.19,261.24 L262.14,261.31 L263.09,261.39 L264.04,261.46 L264.99,261.54 L265.94,261.61 L266.89,261.68 L267.84,261.75 L268.78,261.82 L269.73,261.89 L270.68,261.96 L271.63,262.02 L272.58,262.09 L273.53,262.15 L274.48,262.22 L275.43,262.28 L276.38,262.34 L277.33,262.40 L278.28,262.46 L279.23,262.52 L280.18,262.58 L281.12,262.63 L282.07,262.69 L283.02,262.75 L283.97,262.80 L284.92,262.85 L285.87,262.91 L286.82,262.96 L287.77,263.01 L288.72,263.06 L289.67,263.11 L290.62,263.16 L291.57,263.21 L292.51,263.26 L293.46,263.30 L294.41,263.35 L295.36,263.40 L296.31,263.44 L297.26,263.48 L298.21,263.53 L299.16,263.57 L300.11,263.61 L301.06,263.65 L302.01,263.70 L302.96,263.74 L303.90,263.78 L304.85,263.81 L305.80,263.85 L306.75,263.89 L307.70,263.93 L308.65,263.97 L309.60,264.00 L310.55,264.04 L311.50,264.07 L312.45,264.11 L313.40,264.14 L314.35,264.18 L315.29,264.21 L316.24,264.24 L317.19,264.27 L318.14,264.31 L319.09,264.34 L320.04,264.37 L320.99,264.40 L321.94,264.43 L322.89,264.46 L323.84,264.49 L324.79,264.51 L325.74,264.54 L326.68,264.57 L327.63,264.60 L328.58,264.62 L329.53,264.65 L330.48,264.68 L331.43,264.70 L332.38,264.73 L333.33,264.75 L334.28,264.78 L335.23,264.80 L336.18,264.83 L337.13,264.85 L338.07,264.87 L339.02,264.90 L339.97,264.92 L340.92,264.94 L341.87,264.96 L342.82,264.98 L343.77,265.00 L344.72,265.03 L345.67,265.05 L346.62,265.07 L347.57,265.09 L348.52,265.11 L349.46,265.12 L350.41,265.14 L351.36,265.16 L352.31,265.18 L353.26,265.20 L354.21,265.22 L355.16,265.23 L356.11,265.25 L357.06,265.27 L358.01,265.29 L358.96,265.30 L359.91,265.32 L360.85,265.34 L361.80,265.35 L362.75,265.37 L363.70,265.38 L364.65,265.40 L365.60,265.41 L366.55,265.43 L367.50,265.44 L368.45,265.46 L369.40,265.47 L370.35,265.48 L371.30,265.50 L372.24,265.51 L373.19,265.52 L374.14,265.54 L375.09,265.55 L376.04,265.56 L376.99,265.58 L377.94,265.59 L378.89,265.60 L379.84,265.61 L380.79,265.62 L381.74,265.64 L382.69,265.65 L383.63,265.66 L384.58,265.67 L385.53,265.68 L386.48,265.69 L387.43,265.70 L388.38,265.71 L389.33,265.72 L390.28,265.73 L391.23,265.74 L392.18,265.75 L393.13,265.76 L394.08,265.77 L395.02,265.78 L395.97,265.79 L396.92,265.80 L397.87,265.81 L398.82,265.82 L399.77,265.83 L400.72,265.83" stroke="#0000ff" stroke-width="1" fill="none" stroke-linecap="square" stroke-dasharray="7.885 7.885" clip-path="url(#cl)"/>
<path d="M21.95,36.50 L22.00,38.00 L22.03,38.62 L22.07,39.24 L22.10,39.85 L22.13,40.47 L22.17,41.08 L22.20,41.69 L22.24,42.30 L22.27,42.91 L22.30,43.52 L22.34,44.12 L22.37,44.73 L22.40,45.33 L22.44,45.93 L22.47,46.53 L22.51,47.13 L22.54,47.72 L22.57,48.32 L22.61,48.91 L22.64,49.50" stroke="#ff7f00" stroke-width="3.4" fill="none"/>
<path d="M22.81,52.40 L22.82,52.61 L22.83,52.81 L22.84,53.02 L22.85,53.23 L22.87,53.43 L22.88,53.64 L22.89,53.84 L22.90,54.05 L22.91,54.26 L22.93,54.46 L22.94,54.67 L22.95,54.87 L22.96,55.08 L22.97,55.28 L22.99,55.48 L23.00,55.69 L23.01,55.89 L23.02,56.10 L23.03,56.30" stroke="#ff7f00" stroke-width="3.4" fill="none"/>
<path d="M23.16,58.50 L23.18,58.86 L23.21,59.23 L23.23,59.59 L23.25,59.95 L23.27,60.31 L23.29,60.67 L23.31,61.03 L23.34,61.39 L23.36,61.75 L23.38,62.11 L23.40,62.46 L23.42,62.82 L23.44,63.18 L23.46,63.53 L23.49,63.89 L23.51,64.24 L23.53,64.59 L23.55,64.95 L23.57,65.30" stroke="#ff7f00" stroke-width="3.4" fill="none"/>
<path d="M23.71,67.60 L23.73,67.81 L23.74,68.01 L23.75,68.22 L23.77,68.43 L23.78,68.63 L23.79,68.84 L23.80,69.05 L23.82,69.25 L23.83,69.46 L23.84,69.66 L23.86,69.87 L23.87,70.07 L23.88,70.28 L23.89,70.48 L23.91,70.68 L23.92,70.89 L23.93,71.09 L23.94,71.30 L23.96,71.50" stroke="#ff7f00" stroke-width="3.4" fill="none"/>
<path d="M24.10,73.70 L24.14,74.43 L24.19,75.15 L24.24,75.88 L24.28,76.60 L24.33,77.31 L24.38,78.03 L24.42,78.74 L24.47,79.45 L24.51,80.16 L24.56,80.86 L24.61,81.57 L24.65,82.27 L24.70,82.97 L24.75,83.66 L24.79,84.35 L24.84,85.04 L24.89,85.73 L24.93,86.42 L24.98,87.10" stroke="#ff7f00" stroke-width="3.4" fill="none"/>
<path d="M25.14,89.40 L25.17,89.84 L25.20,90.28 L25.23,90.72 L25.26,91.16 L25.29,91.59 L25.32,92.03 L25.35,92.46 L25.38,92.90 L25.41,93.33 L25.44,93.76 L25.47,94.19 L25.50,94.62 L25.53,95.05 L25.56,95.48 L25.59,95.90 L25.62,96.33 L25.65,96.75 L25.68,97.18 L25.71,97.60" stroke="#ff7f00" stroke-width="3.4" fill="none"/>
<path d="M25.88,99.90 L25.90,100.10 L25.91,100.30 L25.93,100.51 L25.94,100.71 L25.95,100.91 L25.97,101.11 L25.98,101.31 L26.00,101.51 L26.01,101.71 L26.03,101.91 L26.04,102.11 L26.06,102.31 L26.07,102.51 L26.09,102.71 L26.10,102.91 L26.12,103.11 L26.13,103.30 L26.15,103.50 L26.16,103.70" stroke="#ff7f00" stroke-width="3.4" fill="none"/>
<path d="M26.33,106.00 L26.44,107.34 L26.54,108.67 L26.64,109.99 L26.74,111.31 L26.84,112.61 L26.94,113.90 L27.05,115.18 L27.15,116.45 L27.25,117.71 L27.35,118.96 L27.45,120.20 L27.55,121.44 L27.66,122.66 L27.76,123.87 L27.86,125.08 L27.96,126.27 L28.06,127.46 L28.16,128.63 L28.27,129.80" stroke="#ff7f00" stroke-width="3.4" fill="none"/>
<path d="M28.42,131.60 L28.44,131.82 L28.46,132.05 L28.48,132.27 L28.50,132.49 L28.52,132.72 L28.54,132.94 L28.56,133.16 L28.58,133.38 L28.60,133.60 L28.62,133.83 L28.64,134.05 L28.66,134.27 L28.68,134.49 L28.70,134.71 L28.72,134.93 L28.74,135.14 L28.76,135.36 L28.78,135.58 L28.80,135.80" stroke="#ff7f00" stroke-width="3.4" fill="none"/>
<path d="M28.98,137.70 L29.03,138.31 L29.09,138.92 L29.15,139.53 L29.20,140.13 L29.26,140.74 L29.32,141.34 L29.37,141.93 L29.43,142.53 L29.49,143.12 L29.54,143.71 L29.60,144.30 L29.66,144.88 L29.71,145.46 L29.77,146.04 L29.83,146.62 L29.88,147.19 L29.94,147.76 L30.00,148.33 L30.05,148.90" stroke="#ff7f00" stroke-width="3.4" fill="none"/>
<path d="M30.24,150.80 L30.26,151.01 L30.29,151.22 L30.31,151.42 L30.33,151.63 L30.35,151.84 L30.37,152.04 L30.39,152.25 L30.41,152.46 L30.43,152.66 L30.46,152.87 L30.48,153.07 L30.50,153.28 L30.52,153.48 L30.54,153.69 L30.56,153.89 L30.58,154.09 L30.60,154.30 L30.62,154.50 L30.65,154.70" stroke="#ff7f00" stroke-width="3.4" fill="none"/>
<path d="M30.85,156.60 L30.87,156.85 L30.90,157.09 L30.93,157.34 L30.95,157.58 L30.98,157.83 L31.00,158.07 L31.03,158.32 L31.06,158.56 L31.08,158.80 L31.11,159.04 L31.14,159.28 L31.16,159.53 L31.19,159.77 L31.21,160.01 L31.24,160.25 L31.27,160.49 L31.29,160.72 L31.32,160.96 L31.35,161.20" stroke="#ff7f00" stroke-width="3.4" fill="none"/>
<path d="M31.59,163.40 L31.71,164.49 L31.84,165.57 L31.96,166.63 L32.08,167.69 L32.21,168.74 L32.33,169.78 L32.45,170.81 L32.58,171.83 L32.70,172.84 L32.82,173.84 L32.94,174.83 L33.07,175.81 L33.19,176.78 L33.31,177.74 L33.44,178.70 L33.56,179.64 L33.68,180.58 L33.81,181.51 L33.93,182.43 L34.05,183.34 L34.18,184.24 L34.30,185.14 L34.42,186.02 L34.54,186.90 L34.67,187.77 L34.79,188.63 L34.91,189.48 L35.04,190.33 L35.16,191.16 L35.28,191.99 L35.41,192.82 L35.53,193.63 L35.65,194.44 L35.78,195.24 L35.90,196.03 L36.02,196.81 L36.14,197.59 L36.27,198.36 L36.39,199.12 L36.51,199.88 L36.64,200.62 L36.76,201.36 L36.88,202.10 L37.01,202.83 L37.13,203.55 L37.25,204.26 L37.38,204.97 L37.50,205.67 L37.62,206.36 L37.74,207.05 L37.87,207.73 L37.99,208.41 L38.11,209.08 L38.24,209.74 L38.36,210.40 L38.48,211.05 L38.61,211.69 L38.73,212.33 L38.85,212.96 L38.98,213.59 L39.10,214.21 L39.22,214.82 L39.34,215.43 L39.47,216.04 L39.59,216.63 L39.71,217.23 L39.84,217.81 L39.96,218.39 L40.08,218.97 L40.21,219.54 L40.33,220.10 L40.45,220.66 L40.58,221.22 L40.70,221.77 L40.82,222.31 L40.94,222.85 L41.07,223.39 L41.19,223.92 L41.31,224.44 L41.44,224.96 L41.56,225.47 L41.68,225.98 L41.81,226.49 L41.93,226.99 L42.05,227.48 L42.18,227.98 L42.30,228.46 L42.42,228.94 L42.55,229.42 L42.67,229.89 L42.79,230.36 L42.91,230.83 L43.04,231.29 L43.16,231.74 L43.28,232.19 L43.41,232.64 L43.53,233.08 L43.65,233.52 L43.78,233.96 L43.90,234.39 L44.02,234.82 L44.15,235.24 L44.27,235.66 L44.39,236.07 L44.51,236.48 L44.64,236.89 L44.76,237.29 L44.88,237.69 L45.01,238.09 L45.13,238.48 L45.25,238.87 L45.38,239.26 L45.50,239.64 L45.62,240.01 L45.75,240.39 L45.87,240.76 L45.99,241.13 L46.11,241.49 L46.24,241.85 L46.36,242.21 L46.48,242.56 L46.61,242.91 L46.73,243.26 L46.85,243.61 L46.98,243.95 L47.10,244.28 L47.22,244.62 L47.35,244.95 L47.47,245.28 L47.59,245.60 L47.71,245.93 L47.84,246.24 L47.96,246.56 L48.08,246.87 L48.21,247.18 L48.33,247.49 L48.45,247.80 L48.58,248.10 L48.70,248.40 L48.82,248.69 L48.95,248.99 L49.07,249.28 L49.19,249.57 L49.31,249.85 L49.44,250.13 L49.56,250.41 L49.68,250.69 L49.81,250.97 L49.93,251.24 L50.05,251.51 L50.18,251.78 L50.30,252.04 L50.42,252.30 L50.55,252.56 L50.67,252.82 L50.79,253.08 L50.91,253.33 L51.04,253.58 L51.16,253.83 L51.28,254.07 L51.41,254.32 L51.53,254.56 L51.65,254.80 L51.78,255.03 L51.90,255.27 L52.02,255.50 L52.15,255.73 L52.27,255.96 L52.39,256.18 L52.51,256.41 L52.64,256.63 L52.76,256.85 L52.88,257.07 L53.01,257.28 L53.13,257.49 L53.25,257.71 L53.38,257.92 L53.50,258.12 L53.62,258.33 L53.75,258.53 L53.87,258.73 L53.99,258.93 L54.11,259.13 L54.24,259.33 L54.36,259.52 L54.48,259.72 L54.61,259.91 L54.73,260.09 L54.85,260.28 L54.98,260.47 L55.10,260.65 L55.22,260.83 L55.35,261.01 L55.47,261.19 L55.59,261.37 L55.72,261.55 L55.84,261.72 L55.96,261.89 L56.08,262.06 L56.21,262.23 L56.33,262.40 L56.45,262.56 L56.58,262.73 L56.70,262.89 L56.82,263.05 L56.95,263.21 L57.07,263.37 L57.19,263.53 L57.32,263.68 L57.44,263.84 L57.56,263.99 L57.68,264.14 L57.81,264.29 L57.93,264.44 L58.05,264.58 L58.18,264.73 L58.30,264.87 L58.42,265.02 L58.55,265.16 L58.67,265.30 L58.79,265.44 L58.92,265.57 L59.04,265.71 L59.16,265.84 L59.28,265.98 L59.41,266.11 L59.53,266.24 L59.65,266.37 L59.78,266.40 L59.90,266.40 L60.02,266.40 L60.15,266.40 L60.27,266.40 L60.39,266.40 L60.52,266.40 L60.64,266.40 L60.76,266.40 L60.88,266.40 L61.01,266.40 L61.13,266.40 L61.25,266.40 L61.38,266.40 L61.50,266.40 L61.62,266.40 L61.75,266.40 L61.87,266.40 L61.99,266.40 L62.12,266.40 L62.24,266.40 L62.36,266.40 L62.48,266.40 L62.61,266.40 L62.73,266.40 L62.85,266.40 L62.98,266.40 L63.10,266.40 L63.22,266.40 L63.35,266.40 L63.47,266.40 L63.59,266.40 L63.72,266.40 L63.84,266.40 L63.96,266.40 L64.08,266.40 L64.21,266.40 L64.33,266.40 L64.45,266.40 L64.58,266.40 L64.70,266.40 L64.82,266.40 L64.95,266.40 L65.07,266.40 L65.19,266.40 L65.32,266.40 L65.44,266.40 L65.56,266.40 L65.68,266.40 L65.81,266.40 L65.93,266.40 L66.05,266.40 L66.18,266.40 L66.30,266.40 L66.42,266.40 L66.55,266.40 L66.67,266.40 L66.79,266.40 L66.92,266.40 L67.04,266.40 L67.16,266.40 L67.28,266.40 L67.41,266.40 L67.53,266.40 L67.65,266.40 L67.78,266.40 L67.90,266.40 L68.02,266.40 L68.15,266.40 L68.27,266.40 L68.39,266.40 L68.52,266.40 L68.64,266.40 L68.76,266.40 L68.89,266.40 L69.01,266.40 L69.13,266.40 L69.25,266.40 L69.38,266.40 L69.50,266.40 L69.62,266.40 L69.75,266.40 L69.87,266.40 L69.99,266.40 L70.12,266.40 L70.24,266.40 L70.36,266.40 L70.49,266.40 L70.61,266.40 L70.73,266.40 L70.85,266.40 L70.98,266.40 L71.10,266.40 L71.22,266.40 L71.35,266.40 L71.47,266.40 L71.59,266.40 L71.72,266.40 L71.84,266.40 L71.96,266.40 L72.09,266.40 L72.21,266.40 L72.33,266.40 L72.45,266.40 L72.58,266.40 L72.70,266.40 L72.82,266.40 L72.95,266.40 L73.07,266.40 L73.19,266.40 L73.32,266.40 L73.44,266.40 L73.56,266.40 L73.69,266.40 L73.81,266.40 L73.93,266.40 L74.05,266.40 L74.18,266.40 L74.30,266.40 L74.42,266.40 L74.55,266.40 L74.67,266.40 L74.79,266.40 L74.92,266.40 L75.04,266.40 L75.16,266.40 L75.29,266.40 L75.41,266.40 L75.53,266.40 L75.65,266.40 L75.78,266.40 L75.90,266.40 L76.02,266.40 L76.15,266.40 L76.27,266.40 L76.39,266.40 L76.52,266.40 L76.64,266.40 L76.76,266.40 L76.89,266.40 L77.01,266.40 L77.13,266.40 L77.25,266.40 L77.38,266.40 L77.50,266.40 L77.62,266.40 L77.75,266.40 L77.87,266.40 L77.99,266.40 L78.12,266.40 L78.24,266.40 L78.36,266.40 L78.49,266.40 L78.61,266.40 L78.73,266.40 L78.85,266.40 L78.98,266.40 L79.10,266.40 L79.22,266.40 L79.35,266.40 L79.47,266.40 L79.59,266.40 L79.72,266.40 L79.84,266.40 L79.96,266.40 L80.09,266.40 L80.21,266.40 L80.33,266.40 L80.45,266.40 L80.58,266.40 L80.70,266.40 L80.82,266.40 L80.95,266.40 L81.07,266.40 L81.19,266.40 L81.32,266.40 L81.44,266.40 L81.56,266.40 L81.69,266.40 L81.81,266.40 L81.93,266.40 L82.06,266.40 L82.18,266.40 L82.30,266.40 L82.42,266.40 L82.55,266.40 L82.67,266.40 L82.79,266.40 L82.92,266.40 L83.04,266.40 L83.16,266.40 L83.29,266.40 L83.41,266.40 L83.53,266.40 L83.66,266.40 L83.78,266.40 L83.90,266.40 L84.02,266.40 L84.15,266.40 L84.27,266.40 L84.39,266.40 L84.52,266.40 L84.64,266.40 L84.76,266.40 L84.89,266.40 L85.01,266.40 L85.13,266.40 L85.26,266.40 L85.38,266.40 L85.50,266.40 L85.62,266.40 L85.75,266.40 L85.87,266.40 L85.99,266.40 L86.12,266.40 L86.24,266.40 L86.36,266.40 L86.49,266.40 L86.61,266.40 L86.73,266.40 L86.86,266.40 L86.98,266.40 L87.10,266.40 L87.22,266.40 L87.35,266.40 L87.47,266.40 L87.59,266.40 L87.72,266.40 L87.84,266.40 L87.96,266.40 L88.09,266.40 L88.21,266.40 L88.33,266.40 L88.46,266.40 L88.58,266.40 L88.70,266.40 L88.82,266.40 L88.95,266.40 L89.07,266.40 L89.19,266.40 L89.32,266.40 L89.44,266.40 L89.56,266.40 L89.69,266.40 L89.81,266.40 L89.93,266.40 L90.06,266.40 L90.18,266.40 L90.30,266.40 L90.42,266.40 L90.55,266.40 L90.67,266.40 L90.79,266.40 L90.92,266.40 L91.04,266.40 L91.16,266.40 L91.29,266.40 L91.41,266.40 L91.53,266.40 L91.66,266.40 L91.78,266.40 L91.90,266.40 L92.02,266.40 L92.15,266.40 L92.27,266.40 L92.39,266.40 L92.52,266.40 L92.64,266.40 L92.76,266.40 L92.89,266.40 L93.01,266.40 L93.13,266.40 L93.26,266.40 L93.38,266.40 L93.50,266.40 L93.62,266.40 L93.75,266.40 L93.87,266.40 L93.99,266.40 L94.12,266.40 L94.24,266.40 L94.36,266.40 L94.49,266.40 L94.61,266.40 L94.73,266.40 L94.86,266.40 L94.98,266.40 L95.10,266.40 L95.23,266.40 L95.35,266.40 L95.47,266.40 L95.59,266.40 L95.72,266.40 L95.84,266.40 L95.96,266.40 L96.09,266.40 L96.21,266.40 L96.33,266.40 L96.46,266.40 L96.58,266.40 L96.70,266.40 L96.83,266.40 L96.95,266.40 L97.07,266.40 L97.19,266.40 L97.32,266.40 L97.44,266.40 L97.56,266.40 L97.69,266.40 L97.81,266.40 L97.93,266.40 L98.06,266.40 L98.18,266.40 L98.30,266.40 L98.43,266.40 L98.55,266.40 L98.67,266.40 L98.79,266.40 L98.92,266.40 L99.04,266.40 L99.16,266.40 L99.29,266.40 L99.41,266.40 L99.53,266.40 L99.66,266.40 L99.78,266.40 L99.90,266.40 L100.03,266.40 L100.15,266.40 L100.27,266.40 L100.39,266.40 L100.52,266.40 L100.64,266.40 L100.76,266.40 L100.89,266.40 L101.01,266.40 L101.13,266.40 L101.26,266.40 L101.38,266.40 L101.50,266.40 L101.63,266.40 L101.75,266.40 L101.87,266.40 L101.99,266.40 L102.12,266.40 L102.24,266.40 L102.36,266.40 L102.49,266.40 L102.61,266.40 L102.73,266.40 L102.86,266.40 L102.98,266.40 L103.10,266.40 L103.23,266.40 L103.35,266.40 L103.47,266.40 L103.59,266.40 L103.72,266.40 L103.84,266.40 L103.96,266.40 L104.09,266.40 L104.21,266.40 L104.33,266.40 L104.46,266.40 L104.58,266.40 L104.70,266.40 L104.83,266.40 L104.95,266.40 L105.07,266.40 L105.19,266.40 L105.32,266.40 L105.44,266.40 L105.56,266.40 L105.69,266.40 L105.81,266.40 L105.93,266.40 L106.06,266.40 L106.18,266.40 L106.30,266.40 L106.43,266.40 L106.55,266.40 L106.67,266.40 L106.80,266.40 L106.92,266.40 L107.04,266.40 L107.16,266.40 L107.29,266.40 L107.41,266.40 L107.53,266.40 L107.66,266.40 L107.78,266.40 L107.90,266.40 L108.03,266.40 L108.15,266.40 L108.27,266.40 L108.40,266.40 L108.52,266.40 L108.64,266.40 L108.76,266.40 L108.89,266.40 L109.01,266.40 L109.13,266.40 L109.26,266.40 L109.38,266.40 L109.50,266.40 L109.63,266.40 L109.75,266.40 L109.87,266.40 L110.00,266.40 L110.12,266.40 L110.24,266.40 L110.36,266.40 L110.49,266.40 L110.61,266.40 L110.73,266.40 L110.86,266.40 L110.98,266.40 L111.10,266.40 L111.23,266.40 L111.35,266.40 L111.47,266.40 L111.60,266.40 L111.72,266.40 L111.84,266.40 L111.96,266.40 L112.09,266.40 L112.21,266.40 L112.33,266.40 L112.46,266.40 L112.58,266.40 L112.70,266.40 L112.83,266.40 L112.95,266.40 L113.07,266.40 L113.20,266.40 L113.32,266.40 L113.44,266.40 L113.56,266.40 L113.69,266.40 L113.81,266.40 L113.93,266.40 L114.06,266.40 L114.18,266.40 L114.30,266.40 L114.43,266.40 L114.55,266.40 L114.67,266.40 L114.80,266.40 L114.92,266.40 L115.04,266.40 L115.16,266.40 L115.29,266.40 L115.41,266.40 L115.53,266.40 L115.66,266.40 L115.78,266.40 L115.90,266.40 L116.03,266.40 L116.15,266.40 L116.27,266.40 L116.40,266.40 L116.52,266.40 L116.64,266.40 L116.76,266.40 L116.89,266.40 L117.01,266.40 L117.13,266.40 L117.26,266.40 L117.38,266.40 L117.50,266.40 L117.63,266.40 L117.75,266.40 L117.87,266.40 L118.00,266.40 L118.12,266.40 L118.24,266.40 L118.36,266.40 L118.49,266.40 L118.61,266.40 L118.73,266.40 L118.86,266.40 L118.98,266.40 L119.10,266.40 L119.23,266.40 L119.35,266.40 L119.47,266.40 L119.60,266.40 L119.72,266.40 L119.84,266.40 L119.97,266.40 L120.09,266.40 L120.21,266.40 L120.33,266.40 L120.46,266.40 L120.58,266.40 L120.70,266.40 L120.83,266.40 L120.95,266.40 L121.07,266.40 L121.20,266.40 L121.32,266.40 L121.44,266.40 L121.57,266.40 L121.69,266.40 L121.81,266.40 L121.93,266.40 L122.06,266.40 L122.18,266.40 L122.30,266.40 L122.43,266.40 L122.55,266.40 L122.67,266.40 L122.80,266.40 L122.92,266.40 L123.04,266.40 L123.17,266.40 L123.29,266.40 L123.41,266.40 L123.53,266.40 L123.66,266.40 L123.78,266.40 L123.90,266.40 L124.03,266.40 L124.15,266.40 L124.27,266.40 L124.40,266.40 L124.52,266.40 L124.64,266.40 L124.77,266.40 L124.89,266.40 L125.01,266.40 L125.13,266.40 L125.26,266.40 L125.38,266.40 L125.50,266.40 L125.63,266.40 L125.75,266.40 L125.87,266.40 L126.00,266.40 L126.12,266.40 L126.24,266.40 L126.37,266.40 L126.49,266.40 L126.61,266.40 L126.73,266.40 L126.86,266.40 L126.98,266.40 L127.10,266.40 L127.23,266.40 L127.35,266.40 L127.47,266.40 L127.60,266.40 L127.72,266.40 L127.84,266.40 L127.97,266.40 L128.09,266.40 L128.21,266.40 L128.33,266.40 L128.46,266.40 L128.58,266.40 L128.70,266.40 L128.83,266.40 L128.95,266.40 L129.07,266.40 L129.20,266.40 L129.32,266.40 L129.44,266.40 L129.57,266.40 L129.69,266.40 L129.81,266.40 L129.93,266.40 L130.06,266.40 L130.18,266.40 L130.30,266.40 L130.43,266.40 L130.55,266.40 L130.67,266.40 L130.80,266.40 L130.92,266.40 L131.04,266.40 L131.17,266.40 L131.29,266.40 L131.41,266.40 L131.53,266.40 L131.66,266.40 L131.78,266.40 L131.90,266.40 L132.03,266.40 L132.15,266.40 L132.27,266.40 L132.40,266.40 L132.52,266.40 L132.64,266.40 L132.77,266.40 L132.89,266.40 L133.01,266.40 L133.14,266.40 L133.26,266.40 L133.38,266.40 L133.50,266.40 L133.63,266.40 L133.75,266.40 L133.87,266.40 L134.00,266.40 L134.12,266.40 L134.24,266.40 L134.37,266.40 L134.49,266.40 L134.61,266.40 L134.74,266.40 L134.86,266.40 L134.98,266.40 L135.10,266.40 L135.23,266.40 L135.35,266.40 L135.47,266.40 L135.60,266.40 L135.72,266.40 L135.84,266.40 L135.97,266.40 L136.09,266.40 L136.21,266.40 L136.34,266.40 L136.46,266.40 L136.58,266.40 L136.70,266.40 L136.83,266.40 L136.95,266.40 L137.07,266.40 L137.20,266.40 L137.32,266.40 L137.44,266.40 L137.57,266.40 L137.69,266.40 L137.81,266.40 L137.94,266.40 L138.06,266.40 L138.18,266.40 L138.30,266.40 L138.43,266.40 L138.55,266.40 L138.67,266.40 L138.80,266.40 L138.92,266.40 L139.04,266.40 L139.17,266.40 L139.29,266.40 L139.41,266.40 L139.54,266.40 L139.66,266.40 L139.78,266.40 L139.90,266.40 L140.03,266.40 L140.15,266.40 L140.27,266.40 L140.40,266.40 L140.52,266.40 L140.64,266.40 L140.77,266.40 L140.89,266.40 L141.01,266.40 L141.14,266.40 L141.26,266.40 L141.38,266.40 L141.50,266.40 L141.63,266.40 L141.75,266.40 L141.87,266.40 L142.00,266.40 L142.12,266.40 L142.24,266.40 L142.37,266.40 L142.49,266.40 L142.61,266.40 L142.74,266.40 L142.86,266.40 L142.98,266.40 L143.10,266.40 L143.23,266.40 L143.35,266.40 L143.47,266.40 L143.60,266.40 L143.72,266.40 L143.84,266.40 L143.97,266.40 L144.09,266.40 L144.21,266.40 L144.34,266.40 L144.46,266.40 L144.58,266.40 L144.70,266.40 L144.83,266.40 L144.95,266.40 L145.07,266.40 L145.20,266.40 L145.32,266.40 L145.44,266.40 L145.57,266.40 L145.69,266.40 L145.81,266.40 L145.94,266.40 L146.06,266.40 L146.18,266.40 L146.31,266.40 L146.43,266.40 L146.55,266.40 L146.67,266.40 L146.80,266.40 L146.92,266.40 L147.04,266.40 L147.17,266.40 L147.29,266.40 L147.41,266.40 L147.54,266.40 L147.66,266.40 L147.78,266.40 L147.91,266.40 L148.03,266.40 L148.15,266.40 L148.27,266.40 L148.40,266.40 L148.52,266.40 L148.64,266.40 L148.77,266.40 L148.89,266.40 L149.01,266.40 L149.14,266.40 L149.26,266.40 L149.38,266.40 L149.51,266.40 L149.63,266.40 L149.75,266.40 L149.87,266.40 L150.00,266.40 L150.12,266.40 L150.24,266.40 L150.37,266.40 L150.49,266.40 L150.61,266.40 L150.74,266.40 L150.86,266.40 L150.98,266.40 L151.11,266.40 L151.23,266.40 L151.35,266.40 L151.47,266.40 L151.60,266.40 L151.72,266.40 L151.84,266.40 L151.97,266.40 L152.09,266.40 L152.21,266.40 L152.34,266.40 L152.46,266.40 L152.58,266.40 L152.71,266.40 L152.83,266.40 L152.95,266.40 L153.07,266.40 L153.20,266.40 L153.32,266.40 L153.44,266.40 L153.57,266.40 L153.69,266.40 L153.81,266.40 L153.94,266.40 L154.06,266.40 L154.18,266.40 L154.31,266.40 L154.43,266.40 L154.55,266.40 L154.67,266.40 L154.80,266.40 L154.92,266.40 L155.04,266.40 L155.17,266.40 L155.29,266.40 L155.41,266.40 L155.54,266.40 L155.66,266.40 L155.78,266.40 L155.91,266.40 L156.03,266.40 L156.15,266.40 L156.27,266.40 L156.40,266.40 L156.52,266.40 L156.64,266.40 L156.77,266.40 L156.89,266.40 L157.01,266.40 L157.14,266.40 L157.26,266.40 L157.38,266.40 L157.51,266.40 L157.63,266.40 L157.75,266.40 L157.87,266.40 L158.00,266.40 L158.12,266.40 L158.24,266.40 L158.37,266.40 L158.49,266.40 L158.61,266.40 L158.74,266.40 L158.86,266.40 L158.98,266.40 L159.11,266.40 L159.23,266.40 L159.35,266.40 L159.48,266.40 L159.60,266.40 L159.72,266.40 L159.84,266.40 L159.97,266.40 L160.09,266.40 L160.21,266.40 L160.34,266.40 L160.46,266.40 L160.58,266.40 L160.71,266.40 L160.83,266.40 L160.95,266.40 L161.08,266.40 L161.20,266.40 L161.32,266.40 L161.44,266.40 L161.57,266.40 L161.69,266.40 L161.81,266.40 L161.94,266.40 L162.06,266.40 L162.18,266.40 L162.31,266.40 L162.43,266.40 L162.55,266.40 L162.68,266.40 L162.80,266.40 L162.92,266.40 L163.04,266.40 L163.17,266.40 L163.29,266.40 L163.41,266.40 L163.54,266.40 L163.66,266.40 L163.78,266.40 L163.91,266.40 L164.03,266.40 L164.15,266.40 L164.28,266.40 L164.40,266.40 L164.52,266.40 L164.64,266.40 L164.77,266.40 L164.89,266.40 L165.01,266.40 L165.14,266.40 L165.26,266.40 L165.38,266.40 L165.51,266.40 L165.63,266.40 L165.75,266.40 L165.88,266.40 L166.00,266.40 L166.12,266.40 L166.24,266.40 L166.37,266.40 L166.49,266.40 L166.61,266.40 L166.74,266.40 L166.86,266.40 L166.98,266.40 L167.11,266.40 L167.23,266.40 L167.35,266.40 L167.48,266.40 L167.60,266.40 L167.72,266.40 L167.84,266.40 L167.97,266.40 L168.09,266.40 L168.21,266.40 L168.34,266.40 L168.46,266.40 L168.58,266.40 L168.71,266.40 L168.83,266.40 L168.95,266.40 L169.08,266.40 L169.20,266.40 L169.32,266.40 L169.44,266.40 L169.57,266.40 L169.69,266.40 L169.81,266.40 L169.94,266.40 L170.06,266.40 L170.18,266.40 L170.31,266.40 L170.43,266.40 L170.55,266.40 L170.68,266.40 L170.80,266.40 L170.92,266.40 L171.04,266.40 L171.17,266.40 L171.29,266.40 L171.41,266.40 L171.54,266.40 L171.66,266.40 L171.78,266.40 L171.91,266.40 L172.03,266.40 L172.15,266.40 L172.28,266.40 L172.40,266.40 L172.52,266.40 L172.65,266.40 L172.77,266.40 L172.89,266.40 L173.01,266.40 L173.14,266.40 L173.26,266.40 L173.38,266.40 L173.51,266.40 L173.63,266.40 L173.75,266.40 L173.88,266.40 L174.00,266.40 L174.12,266.40 L174.25,266.40 L174.37,266.40 L174.49,266.40 L174.61,266.40 L174.74,266.40 L174.86,266.40 L174.98,266.40 L175.11,266.40 L175.23,266.40 L175.35,266.40 L175.48,266.40 L175.60,266.40 L175.72,266.40 L175.85,266.40 L175.97,266.40 L176.09,266.40 L176.21,266.40 L176.34,266.40 L176.46,266.40 L176.58,266.40 L176.71,266.40 L176.83,266.40 L176.95,266.40 L177.08,266.40 L177.20,266.40 L177.32,266.40 L177.45,266.40 L177.57,266.40 L177.69,266.40 L177.81,266.40 L177.94,266.40 L178.06,266.40 L178.18,266.40 L178.31,266.40 L178.43,266.40 L178.55,266.40 L178.68,266.40 L178.80,266.40 L178.92,266.40 L179.05,266.40 L179.17,266.40 L179.29,266.40 L179.41,266.40 L179.54,266.40 L179.66,266.40 L179.78,266.40 L179.91,266.40 L180.03,266.40 L180.15,266.40 L180.28,266.40 L180.40,266.40 L180.52,266.40 L180.65,266.40 L180.77,266.40 L180.89,266.40 L181.01,266.40 L181.14,266.40 L181.26,266.40 L181.38,266.40 L181.51,266.40 L181.63,266.40 L181.75,266.40 L181.88,266.40 L182.00,266.40 L182.12,266.40 L182.25,266.40 L182.37,266.40 L182.49,266.40 L182.61,266.40 L182.74,266.40 L182.86,266.40 L182.98,266.40 L183.11,266.40 L183.23,266.40 L183.35,266.40 L183.48,266.40 L183.60,266.40 L183.72,266.40 L183.85,266.40 L183.97,266.40 L184.09,266.40 L184.21,266.40 L184.34,266.40 L184.46,266.40 L184.58,266.40 L184.71,266.40 L184.83,266.40 L184.95,266.40 L185.08,266.40 L185.20,266.40 L185.32,266.40 L185.45,266.40 L185.57,266.40 L185.69,266.40 L185.82,266.40 L185.94,266.40 L186.06,266.40 L186.18,266.40 L186.31,266.40 L186.43,266.40 L186.55,266.40 L186.68,266.40 L186.80,266.40 L186.92,266.40 L187.05,266.40 L187.17,266.40 L187.29,266.40 L187.42,266.40 L187.54,266.40 L187.66,266.40 L187.78,266.40 L187.91,266.40 L188.03,266.40 L188.15,266.40 L188.28,266.40 L188.40,266.40 L188.52,266.40 L188.65,266.40 L188.77,266.40 L188.89,266.40 L189.02,266.40 L189.14,266.40 L189.26,266.40 L189.38,266.40 L189.51,266.40 L189.63,266.40 L189.75,266.40 L189.88,266.40 L190.00,266.40 L190.12,266.40 L190.25,266.40 L190.37,266.40 L190.49,266.40 L190.62,266.40 L190.74,266.40 L190.86,266.40 L190.98,266.40 L191.11,266.40 L191.23,266.40 L191.35,266.40 L191.48,266.40 L191.60,266.40 L191.72,266.40 L191.85,266.40 L191.97,266.40 L192.09,266.40 L192.22,266.40 L192.34,266.40 L192.46,266.40 L192.58,266.40 L192.71,266.40 L192.83,266.40 L192.95,266.40 L193.08,266.40 L193.20,266.40 L193.32,266.40 L193.45,266.40 L193.57,266.40 L193.69,266.40 L193.82,266.40 L193.94,266.40 L194.06,266.40 L194.18,266.40 L194.31,266.40 L194.43,266.40 L194.55,266.40 L194.68,266.40 L194.80,266.40 L194.92,266.40 L195.05,266.40 L195.17,266.40 L195.29,266.40 L195.42,266.40 L195.54,266.40 L195.66,266.40 L195.78,266.40 L195.91,266.40 L196.03,266.40 L196.15,266.40 L196.28,266.40 L196.40,266.40 L196.52,266.40 L196.65,266.40 L196.77,266.40 L196.89,266.40 L197.02,266.40 L197.14,266.40 L197.26,266.40 L197.38,266.40 L197.51,266.40 L197.63,266.40 L197.75,266.40 L197.88,266.40 L198.00,266.40 L198.12,266.40 L198.25,266.40 L198.37,266.40 L198.49,266.40 L198.62,266.40 L198.74,266.40 L198.86,266.40 L198.99,266.40 L199.11,266.40 L199.23,266.40 L199.35,266.40 L199.48,266.40 L199.60,266.40 L199.72,266.40 L199.85,266.40 L199.97,266.40 L200.09,266.40 L200.22,266.40 L200.34,266.40 L200.46,266.40 L200.59,266.40 L200.71,266.40 L200.83,266.40 L200.95,266.40 L201.08,266.40 L201.20,266.40 L201.32,266.40 L201.45,266.40 L201.57,266.40 L201.69,266.40 L201.82,266.40 L201.94,266.40 L202.06,266.40 L202.19,266.40 L202.31,266.40 L202.43,266.40 L202.55,266.40 L202.68,266.40 L202.80,266.40 L202.92,266.40 L203.05,266.40 L203.17,266.40 L203.29,266.40 L203.42,266.40 L203.54,266.40 L203.66,266.40 L203.79,266.40 L203.91,266.40 L204.03,266.40 L204.15,266.40 L204.28,266.40 L204.40,266.40 L204.52,266.40 L204.65,266.40 L204.77,266.40 L204.89,266.40 L205.02,266.40 L205.14,266.40 L205.26,266.40 L205.39,266.40 L205.51,266.40 L205.63,266.40 L205.75,266.40 L205.88,266.40 L206.00,266.40 L206.12,266.40 L206.25,266.40 L206.37,266.40 L206.49,266.40 L206.62,266.40 L206.74,266.40 L206.86,266.40 L206.99,266.40 L207.11,266.40 L207.23,266.40 L207.35,266.40 L207.48,266.40 L207.60,266.40 L207.72,266.40 L207.85,266.40 L207.97,266.40 L208.09,266.40 L208.22,266.40 L208.34,266.40 L208.46,266.40 L208.59,266.40 L208.71,266.40 L208.83,266.40 L208.95,266.40 L209.08,266.40 L209.20,266.40 L209.32,266.40 L209.45,266.40 L209.57,266.40 L209.69,266.40 L209.82,266.40 L209.94,266.40 L210.06,266.40 L210.19,266.40 L210.31,266.40 L210.43,266.40 L210.55,266.40 L210.68,266.40 L210.80,266.40 L210.92,266.40 L211.05,266.40 L211.17,266.40 L211.29,266.40 L211.42,266.40 L211.54,266.40 L211.66,266.40 L211.79,266.40 L211.91,266.40 L212.03,266.40 L212.16,266.40 L212.28,266.40 L212.40,266.40 L212.52,266.40 L212.65,266.40 L212.77,266.40 L212.89,266.40 L213.02,266.40 L213.14,266.40 L213.26,266.40 L213.39,266.40 L213.51,266.40 L213.63,266.40 L213.76,266.40 L213.88,266.40 L214.00,266.40 L214.12,266.40 L214.25,266.40 L214.37,266.40 L214.49,266.40 L214.62,266.40 L214.74,266.40 L214.86,266.40 L214.99,266.40 L215.11,266.40 L215.23,266.40 L215.36,266.40 L215.48,266.40 L215.60,266.40 L215.72,266.40 L215.85,266.40 L215.97,266.40 L216.09,266.40 L216.22,266.40 L216.34,266.40 L216.46,266.40 L216.59,266.40 L216.71,266.40 L216.83,266.40 L216.96,266.40 L217.08,266.40 L217.20,266.40 L217.32,266.40 L217.45,266.40 L217.57,266.40 L217.69,266.40 L217.82,266.40 L217.94,266.40 L218.06,266.40 L218.19,266.40 L218.31,266.40 L218.43,266.40 L218.56,266.40 L218.68,266.40 L218.80,266.40 L218.92,266.40 L219.05,266.40 L219.17,266.40 L219.29,266.40 L219.42,266.40 L219.54,266.40 L219.66,266.40 L219.79,266.40 L219.91,266.40 L220.03,266.40 L220.16,266.40 L220.28,266.40 L220.40,266.40 L220.52,266.40 L220.65,266.40 L220.77,266.40 L220.89,266.40 L221.02,266.40 L221.14,266.40 L221.26,266.40 L221.39,266.40 L221.51,266.40 L221.63,266.40 L221.76,266.40 L221.88,266.40 L222.00,266.40 L222.12,266.40 L222.25,266.40 L222.37,266.40 L222.49,266.40 L222.62,266.40 L222.74,266.40 L222.86,266.40 L222.99,266.40 L223.11,266.40 L223.23,266.40 L223.36,266.40 L223.48,266.40 L223.60,266.40 L223.72,266.40 L223.85,266.40 L223.97,266.40 L224.09,266.40 L224.22,266.40 L224.34,266.40 L224.46,266.40 L224.59,266.40 L224.71,266.40 L224.83,266.40 L224.96,266.40 L225.08,266.40 L225.20,266.40 L225.33,266.40 L225.45,266.40 L225.57,266.40 L225.69,266.40 L225.82,266.40 L225.94,266.40 L226.06,266.40 L226.19,266.40 L226.31,266.40 L226.43,266.40 L226.56,266.40 L226.68,266.40 L226.80,266.40 L226.93,266.40 L227.05,266.40 L227.17,266.40 L227.29,266.40 L227.42,266.40 L227.54,266.40 L227.66,266.40 L227.79,266.40 L227.91,266.40 L228.03,266.40 L228.16,266.40 L228.28,266.40 L228.40,266.40 L228.53,266.40 L228.65,266.40 L228.77,266.40 L228.89,266.40 L229.02,266.40 L229.14,266.40 L229.26,266.40 L229.39,266.40 L229.51,266.40 L229.63,266.40 L229.76,266.40 L229.88,266.40 L230.00,266.40 L230.13,266.40 L230.25,266.40 L230.37,266.40 L230.49,266.40 L230.62,266.40 L230.74,266.40 L230.86,266.40 L230.99,266.40 L231.11,266.40 L231.23,266.40 L231.36,266.40 L231.48,266.40 L231.60,266.40 L231.73,266.40 L231.85,266.40 L231.97,266.40 L232.09,266.40 L232.22,266.40 L232.34,266.40 L232.46,266.40 L232.59,266.40 L232.71,266.40 L232.83,266.40 L232.96,266.40 L233.08,266.40 L233.20,266.40 L233.33,266.40 L233.45,266.40 L233.57,266.40 L233.69,266.40 L233.82,266.40 L233.94,266.40 L234.06,266.40 L234.19,266.40 L234.31,266.40 L234.43,266.40 L234.56,266.40 L234.68,266.40 L234.80,266.40 L234.93,266.40 L235.05,266.40 L235.17,266.40 L235.29,266.40 L235.42,266.40 L235.54,266.40 L235.66,266.40 L235.79,266.40 L235.91,266.40 L236.03,266.40 L236.16,266.40 L236.28,266.40 L236.40,266.40 L236.53,266.40 L236.65,266.40 L236.77,266.40 L236.89,266.40 L237.02,266.40 L237.14,266.40 L237.26,266.40 L237.39,266.40 L237.51,266.40 L237.63,266.40 L237.76,266.40 L237.88,266.40 L238.00,266.40 L238.13,266.40 L238.25,266.40 L238.37,266.40 L238.50,266.40 L238.62,266.40 L238.74,266.40 L238.86,266.40 L238.99,266.40 L239.11,266.40 L239.23,266.40 L239.36,266.40 L239.48,266.40 L239.60,266.40 L239.73,266.40 L239.85,266.40 L239.97,266.40 L240.10,266.40 L240.22,266.40 L240.34,266.40 L240.46,266.40 L240.59,266.40 L240.71,266.40 L240.83,266.40 L240.96,266.40 L241.08,266.40 L241.20,266.40 L241.33,266.40 L241.45,266.40 L241.57,266.40 L241.70,266.40 L241.82,266.40 L241.94,266.40 L242.06,266.40 L242.19,266.40 L242.31,266.40 L242.43,266.40 L242.56,266.40 L242.68,266.40 L242.80,266.40 L242.93,266.40 L243.05,266.40 L243.17,266.40 L243.30,266.40 L243.42,266.40 L243.54,266.40 L243.66,266.40 L243.79,266.40 L243.91,266.40 L244.03,266.40 L244.16,266.40 L244.28,266.40 L244.40,266.40 L244.53,266.40 L244.65,266.40 L244.77,266.40 L244.90,266.40 L245.02,266.40 L245.14,266.40 L245.26,266.40 L245.39,266.40 L245.51,266.40 L245.63,266.40 L245.76,266.40 L245.88,266.40 L246.00,266.40 L246.13,266.40 L246.25,266.40 L246.37,266.40 L246.50,266.40 L246.62,266.40 L246.74,266.40 L246.86,266.40 L246.99,266.40 L247.11,266.40 L247.23,266.40 L247.36,266.40 L247.48,266.40 L247.60,266.40 L247.73,266.40 L247.85,266.40 L247.97,266.40 L248.10,266.40 L248.22,266.40 L248.34,266.40 L248.46,266.40 L248.59,266.40 L248.71,266.40 L248.83,266.40 L248.96,266.40 L249.08,266.40 L249.20,266.40 L249.33,266.40 L249.45,266.40 L249.57,266.40 L249.70,266.40 L249.82,266.40 L249.94,266.40 L250.06,266.40 L250.19,266.40 L250.31,266.40 L250.43,266.40 L250.56,266.40 L250.68,266.40 L250.80,266.40 L250.93,266.40 L251.05,266.40 L251.17,266.40 L251.30,266.40 L251.42,266.40 L251.54,266.40 L251.67,266.40 L251.79,266.40 L251.91,266.40 L252.03,266.40 L252.16,266.40 L252.28,266.40 L252.40,266.40 L252.53,266.40 L252.65,266.40 L252.77,266.40 L252.90,266.40 L253.02,266.40 L253.14,266.40 L253.27,266.40 L253.39,266.40 L253.51,266.40 L253.63,266.40 L253.76,266.40 L253.88,266.40 L254.00,266.40 L254.13,266.40 L254.25,266.40 L254.37,266.40 L254.50,266.40 L254.62,266.40 L254.74,266.40 L254.87,266.40 L254.99,266.40 L255.11,266.40 L255.23,266.40 L255.36,266.40 L255.48,266.40 L255.60,266.40 L255.73,266.40 L255.85,266.40 L255.97,266.40 L256.10,266.40 L256.22,266.40 L256.34,266.40 L256.47,266.40 L256.59,266.40 L256.71,266.40 L256.83,266.40 L256.96,266.40 L257.08,266.40 L257.20,266.40 L257.33,266.40 L257.45,266.40 L257.57,266.40 L257.70,266.40 L257.82,266.40 L257.94,266.40 L258.07,266.40 L258.19,266.40 L258.31,266.40 L258.43,266.40 L258.56,266.40 L258.68,266.40 L258.80,266.40 L258.93,266.40 L259.05,266.40 L259.17,266.40 L259.30,266.40 L259.42,266.40 L259.54,266.40 L259.67,266.40 L259.79,266.40 L259.91,266.40 L260.03,266.40 L260.16,266.40 L260.28,266.40 L260.40,266.40 L260.53,266.40 L260.65,266.40 L260.77,266.40 L260.90,266.40 L261.02,266.40 L261.14,266.40 L261.27,266.40 L261.39,266.40 L261.51,266.40 L261.63,266.40 L261.76,266.40 L261.88,266.40 L262.00,266.40 L262.13,266.40 L262.25,266.40 L262.37,266.40 L262.50,266.40 L262.62,266.40 L262.74,266.40 L262.87,266.40 L262.99,266.40 L263.11,266.40 L263.23,266.40 L263.36,266.40 L263.48,266.40 L263.60,266.40 L263.73,266.40 L263.85,266.40 L263.97,266.40 L264.10,266.40 L264.22,266.40 L264.34,266.40 L264.47,266.40 L264.59,266.40 L264.71,266.40 L264.84,266.40 L264.96,266.40 L265.08,266.40 L265.20,266.40 L265.33,266.40 L265.45,266.40 L265.57,266.40 L265.70,266.40 L265.82,266.40 L265.94,266.40 L266.07,266.40 L266.19,266.40 L266.31,266.40 L266.44,266.40 L266.56,266.40 L266.68,266.40 L266.80,266.40 L266.93,266.40 L267.05,266.40 L267.17,266.40 L267.30,266.40 L267.42,266.40 L267.54,266.40 L267.67,266.40 L267.79,266.40 L267.91,266.40 L268.04,266.40 L268.16,266.40 L268.28,266.40 L268.40,266.40 L268.53,266.40 L268.65,266.40 L268.77,266.40 L268.90,266.40 L269.02,266.40 L269.14,266.40 L269.27,266.40 L269.39,266.40 L269.51,266.40 L269.64,266.40 L269.76,266.40 L269.88,266.40 L270.00,266.40 L270.13,266.40 L270.25,266.40 L270.37,266.40 L270.50,266.40 L270.62,266.40 L270.74,266.40 L270.87,266.40 L270.99,266.40 L271.11,266.40 L271.24,266.40 L271.36,266.40 L271.48,266.40 L271.60,266.40 L271.73,266.40 L271.85,266.40 L271.97,266.40 L272.10,266.40 L272.22,266.40 L272.34,266.40 L272.47,266.40 L272.59,266.40 L272.71,266.40 L272.84,266.40 L272.96,266.40 L273.08,266.40 L273.20,266.40 L273.33,266.40 L273.45,266.40 L273.57,266.40 L273.70,266.40 L273.82,266.40 L273.94,266.40 L274.07,266.40 L274.19,266.40 L274.31,266.40 L274.44,266.40 L274.56,266.40 L274.68,266.40 L274.80,266.40 L274.93,266.40 L275.05,266.40 L275.17,266.40 L275.30,266.40 L275.42,266.40 L275.54,266.40 L275.67,266.40 L275.79,266.40 L275.91,266.40 L276.04,266.40 L276.16,266.40 L276.28,266.40 L276.40,266.40 L276.53,266.40 L276.65,266.40 L276.77,266.40 L276.90,266.40 L277.02,266.40 L277.14,266.40 L277.27,266.40 L277.39,266.40 L277.51,266.40 L277.64,266.40 L277.76,266.40 L277.88,266.40 L278.01,266.40 L278.13,266.40 L278.25,266.40 L278.37,266.40 L278.50,266.40 L278.62,266.40 L278.74,266.40 L278.87,266.40 L278.99,266.40 L279.11,266.40 L279.24,266.40 L279.36,266.40 L279.48,266.40 L279.61,266.40 L279.73,266.40 L279.85,266.40 L279.97,266.40 L280.10,266.40 L280.22,266.40 L280.34,266.40 L280.47,266.40 L280.59,266.40 L280.71,266.40 L280.84,266.40 L280.96,266.40 L281.08,266.40 L281.21,266.40 L281.33,266.40 L281.45,266.40 L281.57,266.40 L281.70,266.40 L281.82,266.40 L281.94,266.40 L282.07,266.40 L282.19,266.40 L282.31,266.40 L282.44,266.40 L282.56,266.40 L282.68,266.40 L282.81,266.40 L282.93,266.40 L283.05,266.40 L283.17,266.40 L283.30,266.40 L283.42,266.40 L283.54,266.40 L283.67,266.40 L283.79,266.40 L283.91,266.40 L284.04,266.40 L284.16,266.40 L284.28,266.40 L284.41,266.40 L284.53,266.40 L284.65,266.40 L284.77,266.40 L284.90,266.40 L285.02,266.40 L285.14,266.40 L285.27,266.40 L285.39,266.40 L285.51,266.40 L285.64,266.40 L285.76,266.40 L285.88,266.40 L286.01,266.40 L286.13,266.40 L286.25,266.40 L286.37,266.40 L286.50,266.40 L286.62,266.40 L286.74,266.40 L286.87,266.40 L286.99,266.40 L287.11,266.40 L287.24,266.40 L287.36,266.40 L287.48,266.40 L287.61,266.40 L287.73,266.40 L287.85,266.40 L287.97,266.40 L288.10,266.40 L288.22,266.40 L288.34,266.40 L288.47,266.40 L288.59,266.40 L288.71,266.40 L288.84,266.40 L288.96,266.40 L289.08,266.40 L289.21,266.40 L289.33,266.40 L289.45,266.40 L289.57,266.40 L289.70,266.40 L289.82,266.40 L289.94,266.40 L290.07,266.40 L290.19,266.40 L290.31,266.40 L290.44,266.40 L290.56,266.40 L290.68,266.40 L290.81,266.40 L290.93,266.40 L291.05,266.40 L291.18,266.40 L291.30,266.40 L291.42,266.40 L291.54,266.40 L291.67,266.40 L291.79,266.40 L291.91,266.40 L292.04,266.40 L292.16,266.40 L292.28,266.40 L292.41,266.40 L292.53,266.40 L292.65,266.40 L292.78,266.40 L292.90,266.40 L293.02,266.40 L293.14,266.40 L293.27,266.40 L293.39,266.40 L293.51,266.40 L293.64,266.40 L293.76,266.40 L293.88,266.40 L294.01,266.40 L294.13,266.40 L294.25,266.40 L294.38,266.40 L294.50,266.40 L294.62,266.40 L294.74,266.40 L294.87,266.40 L294.99,266.40 L295.11,266.40 L295.24,266.40 L295.36,266.40 L295.48,266.40 L295.61,266.40 L295.73,266.40 L295.85,266.40 L295.98,266.40 L296.10,266.40 L296.22,266.40 L296.34,266.40 L296.47,266.40 L296.59,266.40 L296.71,266.40 L296.84,266.40 L296.96,266.40 L297.08,266.40 L297.21,266.40 L297.33,266.40 L297.45,266.40 L297.58,266.40 L297.70,266.40 L297.82,266.40 L297.94,266.40 L298.07,266.40 L298.19,266.40 L298.31,266.40 L298.44,266.40 L298.56,266.40 L298.68,266.40 L298.81,266.40 L298.93,266.40 L299.05,266.40 L299.18,266.40 L299.30,266.40 L299.42,266.40 L299.54,266.40 L299.67,266.40 L299.79,266.40 L299.91,266.40 L300.04,266.40 L300.16,266.40 L300.28,266.40 L300.41,266.40 L300.53,266.40 L300.65,266.40 L300.78,266.40 L300.90,266.40 L301.02,266.40 L301.14,266.40 L301.27,266.40 L301.39,266.40 L301.51,266.40 L301.64,266.40 L301.76,266.40 L301.88,266.40 L302.01,266.40 L302.13,266.40 L302.25,266.40 L302.38,266.40 L302.50,266.40 L302.62,266.40 L302.75,266.40 L302.87,266.40 L302.99,266.40 L303.11,266.40 L303.24,266.40 L303.36,266.40 L303.48,266.40 L303.61,266.40 L303.73,266.40 L303.85,266.40 L303.98,266.40 L304.10,266.40 L304.22,266.40 L304.35,266.40 L304.47,266.40 L304.59,266.40 L304.71,266.40 L304.84,266.40 L304.96,266.40 L305.08,266.40 L305.21,266.40 L305.33,266.40 L305.45,266.40 L305.58,266.40 L305.70,266.40 L305.82,266.40 L305.95,266.40 L306.07,266.40 L306.19,266.40 L306.31,266.40 L306.44,266.40 L306.56,266.40 L306.68,266.40 L306.81,266.40 L306.93,266.40 L307.05,266.40 L307.18,266.40 L307.30,266.40 L307.42,266.40 L307.55,266.40 L307.67,266.40 L307.79,266.40 L307.91,266.40 L308.04,266.40 L308.16,266.40 L308.28,266.40 L308.41,266.40 L308.53,266.40 L308.65,266.40 L308.78,266.40 L308.90,266.40 L309.02,266.40 L309.15,266.40 L309.27,266.40 L309.39,266.40 L309.51,266.40 L309.64,266.40 L309.76,266.40 L309.88,266.40 L310.01,266.40 L310.13,266.40 L310.25,266.40 L310.38,266.40 L310.50,266.40 L310.62,266.40 L310.75,266.40 L310.87,266.40 L310.99,266.40 L311.11,266.40 L311.24,266.40 L311.36,266.40 L311.48,266.40 L311.61,266.40 L311.73,266.40 L311.85,266.40 L311.98,266.40 L312.10,266.40 L312.22,266.40 L312.35,266.40 L312.47,266.40 L312.59,266.40 L312.71,266.40 L312.84,266.40 L312.96,266.40 L313.08,266.40 L313.21,266.40 L313.33,266.40 L313.45,266.40 L313.58,266.40 L313.70,266.40 L313.82,266.40 L313.95,266.40 L314.07,266.40 L314.19,266.40 L314.31,266.40 L314.44,266.40 L314.56,266.40 L314.68,266.40 L314.81,266.40 L314.93,266.40 L315.05,266.40 L315.18,266.40 L315.30,266.40 L315.42,266.40 L315.55,266.40 L315.67,266.40 L315.79,266.40 L315.92,266.40 L316.04,266.40 L316.16,266.40 L316.28,266.40 L316.41,266.40 L316.53,266.40 L316.65,266.40 L316.78,266.40 L316.90,266.40 L317.02,266.40 L317.15,266.40 L317.27,266.40 L317.39,266.40 L317.52,266.40 L317.64,266.40 L317.76,266.40 L317.88,266.40 L318.01,266.40 L318.13,266.40 L318.25,266.40 L318.38,266.40 L318.50,266.40 L318.62,266.40 L318.75,266.40 L318.87,266.40 L318.99,266.40 L319.12,266.40 L319.24,266.40 L319.36,266.40 L319.48,266.40 L319.61,266.40 L319.73,266.40 L319.85,266.40 L319.98,266.40 L320.10,266.40 L320.22,266.40 L320.35,266.40 L320.47,266.40 L320.59,266.40 L320.72,266.40 L320.84,266.40 L320.96,266.40 L321.08,266.40 L321.21,266.40 L321.33,266.40 L321.45,266.40 L321.58,266.40 L321.70,266.40 L321.82,266.40 L321.95,266.40 L322.07,266.40 L322.19,266.40 L322.32,266.40 L322.44,266.40 L322.56,266.40 L322.68,266.40 L322.81,266.40 L322.93,266.40 L323.05,266.40 L323.18,266.40 L323.30,266.40 L323.42,266.40 L323.55,266.40 L323.67,266.40 L323.79,266.40 L323.92,266.40 L324.04,266.40 L324.16,266.40 L324.28,266.40 L324.41,266.40 L324.53,266.40 L324.65,266.40 L324.78,266.40 L324.90,266.40 L325.02,266.40 L325.15,266.40 L325.27,266.40 L325.39,266.40 L325.52,266.40 L325.64,266.40 L325.76,266.40 L325.88,266.40 L326.01,266.40 L326.13,266.40 L326.25,266.40 L326.38,266.40 L326.50,266.40 L326.62,266.40 L326.75,266.40 L326.87,266.40 L326.99,266.40 L327.12,266.40 L327.24,266.40 L327.36,266.40 L327.48,266.40 L327.61,266.40 L327.73,266.40 L327.85,266.40 L327.98,266.40 L328.10,266.40 L328.22,266.40 L328.35,266.40 L328.47,266.40 L328.59,266.40 L328.72,266.40 L328.84,266.40 L328.96,266.40 L329.09,266.40 L329.21,266.40 L329.33,266.40 L329.45,266.40 L329.58,266.40 L329.70,266.40 L329.82,266.40 L329.95,266.40 L330.07,266.40 L330.19,266.40 L330.32,266.40 L330.44,266.40 L330.56,266.40 L330.69,266.40 L330.81,266.40 L330.93,266.40 L331.05,266.40 L331.18,266.40 L331.30,266.40 L331.42,266.40 L331.55,266.40 L331.67,266.40 L331.79,266.40 L331.92,266.40 L332.04,266.40 L332.16,266.40 L332.29,266.40 L332.41,266.40 L332.53,266.40 L332.65,266.40 L332.78,266.40 L332.90,266.40 L333.02,266.40 L333.15,266.40 L333.27,266.40 L333.39,266.40 L333.52,266.40 L333.64,266.40 L333.76,266.40 L333.89,266.40 L334.01,266.40 L334.13,266.40 L334.25,266.40 L334.38,266.40 L334.50,266.40 L334.62,266.40 L334.75,266.40 L334.87,266.40 L334.99,266.40 L335.12,266.40 L335.24,266.40 L335.36,266.40 L335.49,266.40 L335.61,266.40 L335.73,266.40 L335.85,266.40 L335.98,266.40 L336.10,266.40 L336.22,266.40 L336.35,266.40 L336.47,266.40 L336.59,266.40 L336.72,266.40 L336.84,266.40 L336.96,266.40 L337.09,266.40 L337.21,266.40 L337.33,266.40 L337.45,266.40 L337.58,266.40 L337.70,266.40 L337.82,266.40 L337.95,266.40 L338.07,266.40 L338.19,266.40 L338.32,266.40 L338.44,266.40 L338.56,266.40 L338.69,266.40 L338.81,266.40 L338.93,266.40 L339.05,266.40 L339.18,266.40 L339.30,266.40 L339.42,266.40 L339.55,266.40 L339.67,266.40 L339.79,266.40 L339.92,266.40 L340.04,266.40 L340.16,266.40 L340.29,266.40 L340.41,266.40 L340.53,266.40 L340.65,266.40 L340.78,266.40 L340.90,266.40 L341.02,266.40 L341.15,266.40 L341.27,266.40 L341.39,266.40 L341.52,266.40 L341.64,266.40 L341.76,266.40 L341.89,266.40 L342.01,266.40 L342.13,266.40 L342.26,266.40 L342.38,266.40 L342.50,266.40 L342.62,266.40 L342.75,266.40 L342.87,266.40 L342.99,266.40 L343.12,266.40 L343.24,266.40 L343.36,266.40 L343.49,266.40 L343.61,266.40 L343.73,266.40 L343.86,266.40 L343.98,266.40 L344.10,266.40 L344.22,266.40 L344.35,266.40 L344.47,266.40 L344.59,266.40 L344.72,266.40 L344.84,266.40 L344.96,266.40 L345.09,266.40 L345.21,266.40 L345.33,266.40 L345.46,266.40 L345.58,266.40 L345.70,266.40 L345.82,266.40 L345.95,266.40 L346.07,266.40 L346.19,266.40 L346.32,266.40 L346.44,266.40 L346.56,266.40 L346.69,266.40 L346.81,266.40 L346.93,266.40 L347.06,266.40 L347.18,266.40 L347.30,266.40 L347.42,266.40 L347.55,266.40 L347.67,266.40 L347.79,266.40 L347.92,266.40 L348.04,266.40 L348.16,266.40 L348.29,266.40 L348.41,266.40 L348.53,266.40 L348.66,266.40 L348.78,266.40 L348.90,266.40 L349.02,266.40 L349.15,266.40 L349.27,266.40 L349.39,266.40 L349.52,266.40 L349.64,266.40 L349.76,266.40 L349.89,266.40 L350.01,266.40 L350.13,266.40 L350.26,266.40 L350.38,266.40 L350.50,266.40 L350.62,266.40 L350.75,266.40 L350.87,266.40 L350.99,266.40 L351.12,266.40 L351.24,266.40 L351.36,266.40 L351.49,266.40 L351.61,266.40 L351.73,266.40 L351.86,266.40 L351.98,266.40 L352.10,266.40 L352.22,266.40 L352.35,266.40 L352.47,266.40 L352.59,266.40 L352.72,266.40 L352.84,266.40 L352.96,266.40 L353.09,266.40 L353.21,266.40 L353.33,266.40 L353.46,266.40 L353.58,266.40 L353.70,266.40 L353.82,266.40 L353.95,266.40 L354.07,266.40 L354.19,266.40 L354.32,266.40 L354.44,266.40 L354.56,266.40 L354.69,266.40 L354.81,266.40 L354.93,266.40 L355.06,266.40 L355.18,266.40 L355.30,266.40 L355.43,266.40 L355.55,266.40 L355.67,266.40 L355.79,266.40 L355.92,266.40 L356.04,266.40 L356.16,266.40 L356.29,266.40 L356.41,266.40 L356.53,266.40 L356.66,266.40 L356.78,266.40 L356.90,266.40 L357.03,266.40 L357.15,266.40 L357.27,266.40 L357.39,266.40 L357.52,266.40 L357.64,266.40 L357.76,266.40 L357.89,266.40 L358.01,266.40 L358.13,266.40 L358.26,266.40 L358.38,266.40 L358.50,266.40 L358.63,266.40 L358.75,266.40 L358.87,266.40 L358.99,266.40 L359.12,266.40 L359.24,266.40 L359.36,266.40 L359.49,266.40 L359.61,266.40 L359.73,266.40 L359.86,266.40 L359.98,266.40 L360.10,266.40 L360.23,266.40 L360.35,266.40 L360.47,266.40 L360.59,266.40 L360.72,266.40 L360.84,266.40 L360.96,266.40 L361.09,266.40 L361.21,266.40 L361.33,266.40 L361.46,266.40 L361.58,266.40 L361.70,266.40 L361.83,266.40 L361.95,266.40 L362.07,266.40 L362.19,266.40 L362.32,266.40 L362.44,266.40 L362.56,266.40 L362.69,266.40 L362.81,266.40 L362.93,266.40 L363.06,266.40 L363.18,266.40 L363.30,266.40 L363.43,266.40 L363.55,266.40 L363.67,266.40 L363.79,266.40 L363.92,266.40 L364.04,266.40 L364.16,266.40 L364.29,266.40 L364.41,266.40 L364.53,266.40 L364.66,266.40 L364.78,266.40 L364.90,266.40 L365.03,266.40 L365.15,266.40 L365.27,266.40 L365.39,266.40 L365.52,266.40 L365.64,266.40 L365.76,266.40 L365.89,266.40 L366.01,266.40 L366.13,266.40 L366.26,266.40 L366.38,266.40 L366.50,266.40 L366.63,266.40 L366.75,266.40 L366.87,266.40 L366.99,266.40 L367.12,266.40 L367.24,266.40 L367.36,266.40 L367.49,266.40 L367.61,266.40 L367.73,266.40 L367.86,266.40 L367.98,266.40 L368.10,266.40 L368.23,266.40 L368.35,266.40 L368.47,266.40 L368.60,266.40 L368.72,266.40 L368.84,266.40 L368.96,266.40 L369.09,266.40 L369.21,266.40 L369.33,266.40 L369.46,266.40 L369.58,266.40 L369.70,266.40 L369.83,266.40 L369.95,266.40 L370.07,266.40 L370.20,266.40 L370.32,266.40 L370.44,266.40 L370.56,266.40 L370.69,266.40 L370.81,266.40 L370.93,266.40 L371.06,266.40 L371.18,266.40 L371.30,266.40 L371.43,266.40 L371.55,266.40 L371.67,266.40 L371.80,266.40 L371.92,266.40 L372.04,266.40 L372.16,266.40 L372.29,266.40 L372.41,266.40 L372.53,266.40 L372.66,266.40 L372.78,266.40 L372.90,266.40 L373.03,266.40 L373.15,266.40 L373.27,266.40 L373.40,266.40 L373.52,266.40 L373.64,266.40 L373.76,266.40 L373.89,266.40 L374.01,266.40 L374.13,266.40 L374.26,266.40 L374.38,266.40 L374.50,266.40 L374.63,266.40 L374.75,266.40 L374.87,266.40 L375.00,266.40 L375.12,266.40 L375.24,266.40 L375.36,266.40 L375.49,266.40 L375.61,266.40 L375.73,266.40 L375.86,266.40 L375.98,266.40 L376.10,266.40 L376.23,266.40 L376.35,266.40 L376.47,266.40 L376.60,266.40 L376.72,266.40 L376.84,266.40 L376.96,266.40 L377.09,266.40 L377.21,266.40 L377.33,266.40 L377.46,266.40 L377.58,266.40 L377.70,266.40 L377.83,266.40 L377.95,266.40 L378.07,266.40 L378.20,266.40 L378.32,266.40 L378.44,266.40 L378.56,266.40 L378.69,266.40 L378.81,266.40 L378.93,266.40 L379.06,266.40 L379.18,266.40 L379.30,266.40 L379.43,266.40 L379.55,266.40 L379.67,266.40 L379.80,266.40 L379.92,266.40 L380.04,266.40 L380.16,266.40 L380.29,266.40 L380.41,266.40 L380.53,266.40 L380.66,266.40 L380.78,266.40 L380.90,266.40 L381.03,266.40 L381.15,266.40 L381.27,266.40 L381.40,266.40 L381.52,266.40 L381.64,266.40 L381.77,266.40 L381.89,266.40 L382.01,266.40 L382.13,266.40 L382.26,266.40 L382.38,266.40 L382.50,266.40 L382.63,266.40 L382.75,266.40 L382.87,266.40 L383.00,266.40 L383.12,266.40 L383.24,266.40 L383.37,266.40 L383.49,266.40 L383.61,266.40 L383.73,266.40 L383.86,266.40 L383.98,266.40 L384.10,266.40 L384.23,266.40 L384.35,266.40 L384.47,266.40 L384.60,266.40 L384.72,266.40 L384.84,266.40 L384.97,266.40 L385.09,266.40 L385.21,266.40 L385.33,266.40 L385.46,266.40 L385.58,266.40 L385.70,266.40 L385.83,266.40 L385.95,266.40 L386.07,266.40 L386.20,266.40 L386.32,266.40 L386.44,266.40 L386.57,266.40 L386.69,266.40 L386.81,266.40 L386.93,266.40 L387.06,266.40 L387.18,266.40 L387.30,266.40 L387.43,266.40 L387.55,266.40 L387.67,266.40 L387.80,266.40 L387.92,266.40 L388.04,266.40 L388.17,266.40 L388.29,266.40 L388.41,266.40 L388.53,266.40 L388.66,266.40 L388.78,266.40 L388.90,266.40 L389.03,266.40 L389.15,266.40 L389.27,266.40 L389.40,266.40 L389.52,266.40 L389.64,266.40 L389.77,266.40 L389.89,266.40 L390.01,266.40 L390.13,266.40 L390.26,266.40 L390.38,266.40 L390.50,266.40 L390.63,266.40 L390.75,266.40 L390.87,266.40 L391.00,266.40 L391.12,266.40 L391.24,266.40 L391.37,266.40 L391.49,266.40 L391.61,266.40 L391.73,266.40 L391.86,266.40 L391.98,266.40 L392.10,266.40 L392.23,266.40 L392.35,266.40 L392.47,266.40 L392.60,266.40 L392.72,266.40 L392.84,266.40 L392.97,266.40 L393.09,266.40 L393.21,266.40 L393.33,266.40 L393.46,266.40 L393.58,266.40 L393.70,266.40 L393.83,266.40 L393.95,266.40 L394.07,266.40 L394.20,266.40 L394.32,266.40 L394.44,266.40 L394.57,266.40 L394.69,266.40 L394.81,266.40 L394.94,266.40 L395.06,266.40 L395.18,266.40 L395.30,266.40 L395.43,266.40 L395.55,266.40 L395.67,266.40 L395.80,266.40 L395.92,266.40 L396.04,266.40 L396.17,266.40 L396.29,266.40 L396.41,266.40 L396.54,266.40 L396.66,266.40 L396.78,266.40 L396.90,266.40 L397.03,266.40 L397.15,266.40 L397.27,266.40 L397.40,266.40 L397.52,266.40 L397.64,266.40 L397.77,266.40 L397.89,266.40 L398.01,266.40 L398.14,266.40 L398.26,266.40 L398.38,266.40 L398.50,266.40 L398.63,266.40 L398.75,266.40 L398.87,266.40 L399.00,266.40 L399.12,266.40 L399.24,266.40 L399.37,266.40 L399.49,266.40 L399.61,266.40 L399.74,266.40 L399.86,266.40 L399.98,266.40 L400.10,266.40 L400.23,266.40 L400.35,266.40 L400.47,266.40 L400.60,266.40 L400.72,266.40" stroke="#ff7f00" stroke-width="3.4" fill="none" stroke-dasharray="3.9 1.9 8.1 1.87"/>
<path d="M22.00,38.00 L22.14,38.76 L22.28,39.52 L22.42,40.28 L22.55,41.04 L22.69,41.80 L22.83,42.55 L22.97,43.30 L23.11,44.05 L23.25,44.80 L23.39,45.54 L23.53,46.28 L23.66,47.03 L23.80,47.76 L23.94,48.50 L24.08,49.24 L24.22,49.97 L24.36,50.70 L24.50,51.43 L24.63,52.16 L24.77,52.88 L24.91,53.60 L25.05,54.32 L25.19,55.04 L25.33,55.76 L25.47,56.47 L25.60,57.19 L25.74,57.90 L25.88,58.60 L26.02,59.31 L26.16,60.01 L26.30,60.71 L26.44,61.41 L26.58,62.11 L26.71,62.80 L26.85,63.49 L26.99,64.18 L27.13,64.87 L27.27,65.56 L27.41,66.24 L27.55,66.92 L27.68,67.60 L27.82,68.28 L27.96,68.95 L28.10,69.62 L28.24,70.29 L28.38,70.96 L28.52,71.62 L28.65,72.29 L28.79,72.95 L28.93,73.61 L29.07,74.26 L29.21,74.92 L29.35,75.57 L29.49,76.23 L29.63,76.88 L29.76,77.52 L29.90,78.17 L30.04,78.81 L30.18,79.45 L30.32,80.10 L30.46,80.73 L30.60,81.37 L30.73,82.00 L30.87,82.64 L31.01,83.27 L31.15,83.90 L31.29,84.52 L31.43,85.15 L31.57,85.77 L31.70,86.39 L31.84,87.01 L31.98,87.63 L32.12,88.24 L32.26,88.86 L32.40,89.47 L32.54,90.08 L32.68,90.68 L32.81,91.29 L32.95,91.89 L33.09,92.50 L33.23,93.10 L33.37,93.69 L33.51,94.29 L33.65,94.88 L33.78,95.48 L33.92,96.07 L34.06,96.66 L34.20,97.24 L34.34,97.83 L34.48,98.41 L34.62,98.99 L34.76,99.57 L34.89,100.15 L35.03,100.72 L35.17,101.30 L35.31,101.87 L35.45,102.44 L35.59,103.01 L35.73,103.58 L35.86,104.14 L36.00,104.71 L36.14,105.27 L36.28,105.83 L36.42,106.39 L36.56,106.95 L36.70,107.50 L36.83,108.06 L36.97,108.61 L37.11,109.16 L37.25,109.71 L37.39,110.26 L37.53,110.80 L37.67,111.35 L37.81,111.89 L37.94,112.43 L38.08,112.97 L38.22,113.51 L38.36,114.04 L38.50,114.57 L38.64,115.11 L38.78,115.64 L38.91,116.17 L39.05,116.69 L39.19,117.22 L39.33,117.74 L39.47,118.27 L39.61,118.79 L39.75,119.31 L39.88,119.82 L40.02,120.34 L40.16,120.85 L40.30,121.37 L40.44,121.88 L40.58,122.39 L40.72,122.89 L40.86,123.40 L40.99,123.90 L41.13,124.41 L41.27,124.91 L41.41,125.41 L41.55,125.91 L41.69,126.40 L41.83,126.90 L41.96,127.39 L42.10,127.89 L42.24,128.38 L42.38,128.87 L42.52,129.35 L42.66,129.84 L42.80,130.33 L42.94,130.81 L43.07,131.29 L43.21,131.77 L43.35,132.25 L43.49,132.73 L43.63,133.21 L43.77,133.68 L43.91,134.16 L44.04,134.63 L44.18,135.10 L44.32,135.57 L44.46,136.04 L44.60,136.50 L44.74,136.97 L44.88,137.43 L45.01,137.90 L45.15,138.36 L45.29,138.82 L45.43,139.27 L45.57,139.73 L45.71,140.19 L45.85,140.64 L45.99,141.09 L46.12,141.54 L46.26,141.99 L46.40,142.44 L46.54,142.88 L46.68,143.33 L46.82,143.77 L46.96,144.21 L47.09,144.66 L47.23,145.09 L47.37,145.53 L47.51,145.97 L47.65,146.40 L47.79,146.84 L47.93,147.27 L48.06,147.70 L48.20,148.13 L48.34,148.56 L48.48,148.99 L48.62,149.41 L48.76,149.84 L48.90,150.26 L49.04,150.69 L49.17,151.11 L49.31,151.53 L49.45,151.95 L49.59,152.36 L49.73,152.78 L49.87,153.20 L50.01,153.61 L50.14,154.02 L50.28,154.43 L50.42,154.84 L50.56,155.25 L50.70,155.66 L50.84,156.07 L50.98,156.47 L51.11,156.87 L51.25,157.28 L51.39,157.68 L51.53,158.08 L51.67,158.48 L51.81,158.87 L51.95,159.27 L52.09,159.67 L52.22,160.06 L52.36,160.45 L52.50,160.84 L52.64,161.23 L52.78,161.62 L52.92,162.01 L53.06,162.39 L53.19,162.78 L53.33,163.16 L53.47,163.55 L53.61,163.93 L53.75,164.31 L53.89,164.69 L54.03,165.06 L54.17,165.44 L54.30,165.82 L54.44,166.19 L54.58,166.56 L54.72,166.94 L54.86,167.31 L55.00,167.68 L55.14,168.05 L55.27,168.41 L55.41,168.78 L55.55,169.15 L55.69,169.51 L55.83,169.88 L55.97,170.24 L56.11,170.60 L56.24,170.96 L56.38,171.32 L56.52,171.68 L56.66,172.03 L56.80,172.39 L56.94,172.75 L57.08,173.10 L57.22,173.45 L57.35,173.80 L57.49,174.15 L57.63,174.50 L57.77,174.85 L57.91,175.20 L58.05,175.54 L58.19,175.89 L58.32,176.23 L58.46,176.58 L58.60,176.92 L58.74,177.26 L58.88,177.60 L59.02,177.94 L59.16,178.27 L59.29,178.61 L59.43,178.95 L59.57,179.28 L59.71,179.61 L59.85,179.94 L59.99,180.28 L60.13,180.61 L60.27,180.93 L60.40,181.26 L60.54,181.59 L60.68,181.92 L60.82,182.24 L60.96,182.56 L61.10,182.89 L61.24,183.21 L61.37,183.53 L61.51,183.85 L61.65,184.17 L61.79,184.49 L61.93,184.81 L62.07,185.12 L62.21,185.44 L62.35,185.75 L62.48,186.07 L62.62,186.38 L62.76,186.69 L62.90,187.00 L63.04,187.31 L63.18,187.62 L63.32,187.93 L63.45,188.24 L63.59,188.54 L63.73,188.85 L63.87,189.15 L64.01,189.46 L64.15,189.76 L64.29,190.06 L64.42,190.36 L64.56,190.66 L64.70,190.96 L64.84,191.26 L64.98,191.55 L65.12,191.85 L65.26,192.14 L65.40,192.44 L65.53,192.73 L65.67,193.02 L65.81,193.31 L65.95,193.60 L66.09,193.89 L66.23,194.18 L66.37,194.47 L66.50,194.75 L66.64,195.04 L66.78,195.32 L66.92,195.61 L67.06,195.89 L67.20,196.17 L67.34,196.45 L67.47,196.74 L67.61,197.02 L67.75,197.29 L67.89,197.57 L68.03,197.85 L68.17,198.13 L68.31,198.40 L68.45,198.68 L68.58,198.95 L68.72,199.22 L68.86,199.50 L69.00,199.77 L69.14,200.04 L69.28,200.31 L69.42,200.58 L69.55,200.85 L69.69,201.11 L69.83,201.38 L69.97,201.65 L70.11,201.91 L70.25,202.17 L70.39,202.44 L70.52,202.70 L70.66,202.96 L70.80,203.22 L70.94,203.48 L71.08,203.74 L71.22,204.00 L71.36,204.26 L71.50,204.51 L71.63,204.77 L71.77,205.03 L71.91,205.28 L72.05,205.53 L72.19,205.79 L72.33,206.04 L72.47,206.29 L72.60,206.54 L72.74,206.79 L72.88,207.04 L73.02,207.28 L73.16,207.53 L73.30,207.78 L73.44,208.02 L73.58,208.27 L73.71,208.51 L73.85,208.76 L73.99,209.00 L74.13,209.24 L74.27,209.48 L74.41,209.72 L74.55,209.96 L74.68,210.20 L74.82,210.44 L74.96,210.68 L75.10,210.92 L75.24,211.15 L75.38,211.39 L75.52,211.62 L75.65,211.86 L75.79,212.09 L75.93,212.32 L76.07,212.56 L76.21,212.79 L76.35,213.02 L76.49,213.25 L76.63,213.48 L76.76,213.71 L76.90,213.93 L77.04,214.16 L77.18,214.39 L77.32,214.61 L77.46,214.84 L77.60,215.06 L77.73,215.29 L77.87,215.51 L78.01,215.73 L78.15,215.95 L78.29,216.17 L78.43,216.39 L78.57,216.61 L78.70,216.83 L78.84,217.05 L78.98,217.27 L79.12,217.48 L79.26,217.70 L79.40,217.92 L79.54,218.13 L79.68,218.35 L79.81,218.57 L79.95,218.78 L80.09,219.00 L80.23,219.21 L80.37,219.42 L80.51,219.64 L80.65,219.85 L80.78,220.06 L80.92,220.28 L81.06,220.49 L81.20,220.70 L81.34,220.91 L81.48,221.12 L81.62,221.32 L81.76,221.53 L81.89,221.74 L82.03,221.94 L82.17,222.15 L82.31,222.35 L82.45,222.56 L82.59,222.76 L82.73,222.96 L82.86,223.16 L83.00,223.36 L83.14,223.56 L83.28,223.76 L83.42,223.95 L83.56,224.15 L83.70,224.34 L83.83,224.53 L83.97,224.72 L84.11,224.91 L84.25,225.10 L84.39,225.29 L84.53,225.48 L84.67,225.66 L84.81,225.84 L84.94,226.02 L85.08,226.20 L85.22,226.38 L85.36,226.56 L85.50,226.74 L85.64,226.92 L85.78,227.09 L85.91,227.27 L86.05,227.44 L86.19,227.62 L86.33,227.80 L86.47,227.97 L86.61,228.14 L86.75,228.32 L86.88,228.49 L87.02,228.66 L87.16,228.83 L87.30,229.01 L87.44,229.18 L87.58,229.35 L87.72,229.52 L87.86,229.69 L87.99,229.86 L88.13,230.03 L88.27,230.19 L88.41,230.36 L88.55,230.53 L88.69,230.70 L88.83,230.86 L88.96,231.03 L89.10,231.19 L89.24,231.36 L89.38,231.52 L89.52,231.69 L89.66,231.85 L89.80,232.01 L89.93,232.18 L90.07,232.34 L90.21,232.50 L90.35,232.66 L90.49,232.82 L90.63,232.99 L90.77,233.15 L90.91,233.31 L91.04,233.46 L91.18,233.62 L91.32,233.78 L91.46,233.94 L91.60,234.10 L91.74,234.26 L91.88,234.41 L92.01,234.57 L92.15,234.72 L92.29,234.88 L92.43,235.03 L92.57,235.19 L92.71,235.34 L92.85,235.50 L92.99,235.65 L93.12,235.80 L93.26,235.96 L93.40,236.11 L93.54,236.26 L93.68,236.41 L93.82,236.56 L93.96,236.71 L94.09,236.86 L94.23,237.01 L94.37,237.16 L94.51,237.31 L94.65,237.46 L94.79,237.61 L94.93,237.75 L95.06,237.90 L95.20,238.05 L95.34,238.19 L95.48,238.34 L95.62,238.49 L95.76,238.63 L95.90,238.78 L96.04,238.92 L96.17,239.06 L96.31,239.21 L96.45,239.35 L96.59,239.49 L96.73,239.64 L96.87,239.78 L97.01,239.92 L97.14,240.06 L97.28,240.20 L97.42,240.34 L97.56,240.48 L97.70,240.62 L97.84,240.76 L97.98,240.90 L98.11,241.04 L98.25,241.18 L98.39,241.31 L98.53,241.45 L98.67,241.59 L98.81,241.73 L98.95,241.86 L99.09,242.00 L99.22,242.13 L99.36,242.27 L99.50,242.40 L99.64,242.54 L99.78,242.67 L99.92,242.81 L100.06,242.94 L100.19,243.07 L100.33,243.21 L100.47,243.34 L100.61,243.47 L100.75,243.60 L100.89,243.73 L101.03,243.86 L101.17,243.99 L101.30,244.12 L101.44,244.25 L101.58,244.38 L101.72,244.51 L101.86,244.64 L102.00,244.77 L102.14,244.90 L102.27,245.03 L102.41,245.15 L102.55,245.28 L102.69,245.41 L102.83,245.53 L102.97,245.66 L103.11,245.78 L103.24,245.91 L103.38,246.03 L103.52,246.16 L103.66,246.28 L103.80,246.40 L103.94,246.53 L104.08,246.65 L104.22,246.77 L104.35,246.89 L104.49,247.02 L104.63,247.14 L104.77,247.26 L104.91,247.38 L105.05,247.50 L105.19,247.62 L105.32,247.74 L105.46,247.86 L105.60,247.98 L105.74,248.10 L105.88,248.21 L106.02,248.33 L106.16,248.45 L106.29,248.57 L106.43,248.68 L106.57,248.80 L106.71,248.92 L106.85,249.03 L106.99,249.15 L107.13,249.26 L107.27,249.38 L107.40,249.49 L107.54,249.61 L107.68,249.72 L107.82,249.83 L107.96,249.95 L108.10,250.06 L108.24,250.17 L108.37,250.28 L108.51,250.40 L108.65,250.51 L108.79,250.62 L108.93,250.73 L109.07,250.84 L109.21,250.95 L109.34,251.06 L109.48,251.17 L109.62,251.28 L109.76,251.39 L109.90,251.50 L110.04,251.61 L110.18,251.71 L110.32,251.82 L110.45,251.93 L110.59,252.04 L110.73,252.14 L110.87,252.25 L111.01,252.36 L111.15,252.46 L111.29,252.57 L111.42,252.67 L111.56,252.78 L111.70,252.88 L111.84,252.99 L111.98,253.09 L112.12,253.20 L112.26,253.30 L112.40,253.40 L112.53,253.50 L112.67,253.61 L112.81,253.71 L112.95,253.81 L113.09,253.91 L113.23,254.02 L113.37,254.12 L113.50,254.22 L113.64,254.32 L113.78,254.42 L113.92,254.52 L114.06,254.62 L114.20,254.71 L114.34,254.81 L114.47,254.91 L114.61,255.01 L114.75,255.11 L114.89,255.20 L115.03,255.30 L115.17,255.40 L115.31,255.49 L115.45,255.59 L115.58,255.68 L115.72,255.78 L115.86,255.88 L116.00,255.97 L116.14,256.06 L116.28,256.16 L116.42,256.25 L116.55,256.35 L116.69,256.44 L116.83,256.53 L116.97,256.63 L117.11,256.72 L117.25,256.81 L117.39,256.90 L117.52,257.00 L117.66,257.09 L117.80,257.18 L117.94,257.27 L118.08,257.36 L118.22,257.45 L118.36,257.54 L118.50,257.63 L118.63,257.72 L118.77,257.81 L118.91,257.90 L119.05,257.99 L119.19,258.08 L119.33,258.17 L119.47,258.26 L119.60,258.35 L119.74,258.44 L119.88,258.53 L120.02,258.62 L120.16,258.70 L120.30,258.79 L120.44,258.88 L120.58,258.97 L120.71,259.06 L120.85,259.14 L120.99,259.23 L121.13,259.32 L121.27,259.41 L121.41,259.49 L121.55,259.58 L121.68,259.67 L121.82,259.76 L121.96,259.84 L122.10,259.93 L122.24,260.02 L122.38,260.10 L122.52,260.19 L122.65,260.28 L122.79,260.36 L122.93,260.45 L123.07,260.54 L123.21,260.62 L123.35,260.71 L123.49,260.79 L123.63,260.88 L123.76,260.97 L123.90,261.05 L124.04,261.14 L124.18,261.23 L124.32,261.31 L124.46,261.40 L124.60,261.48 L124.73,261.57 L124.87,261.66 L125.01,261.74 L125.15,261.83 L125.29,261.91 L125.43,262.00 L125.57,262.09 L125.70,262.17 L125.84,262.26 L125.98,262.35 L126.12,262.43 L126.26,262.52 L126.40,262.60 L126.54,262.69 L126.68,262.77 L126.81,262.86 L126.95,262.94 L127.09,263.03 L127.23,263.11 L127.37,263.20 L127.51,263.28 L127.65,263.37 L127.78,263.45 L127.92,263.54 L128.06,263.62 L128.20,263.70 L128.34,263.79 L128.48,263.87 L128.62,263.95 L128.75,264.04 L128.89,264.12 L129.03,264.20 L129.17,264.29 L129.31,264.37 L129.45,264.45 L129.59,264.53 L129.73,264.62 L129.86,264.70 L130.00,264.78 L130.14,264.86 L130.28,264.94 L130.42,265.03 L130.56,265.11 L130.70,265.19 L130.83,265.27 L130.97,265.35 L131.11,265.43 L131.25,265.51 L131.39,265.60 L131.53,265.68 L131.67,265.76 L131.81,265.84 L131.94,265.92 L132.08,266.00 L132.22,266.08 L132.36,266.16 L132.50,266.24 L132.64,266.32 L132.78,266.40" stroke="#0000ff" stroke-width="1.05" fill="none" stroke-dasharray="1.4 4.007 6.357 4.007" stroke-dashoffset="-1.2"/>
<line x1="14" y1="266.5" x2="408.5" y2="266.5" stroke="#444" stroke-width="0.68"/>
<line x1="22.0" y1="30.4" x2="22.0" y2="274.6" stroke="#444" stroke-width="0.58"/>
<line x1="34.5" y1="266.4" x2="34.5" y2="263.59999999999997" stroke="#444" stroke-width="0.7"/>
<line x1="47.5" y1="266.4" x2="47.5" y2="263.59999999999997" stroke="#444" stroke-width="0.7"/>
<line x1="59.5" y1="266.4" x2="59.5" y2="263.59999999999997" stroke="#444" stroke-width="0.7"/>
<line x1="72.5" y1="266.4" x2="72.5" y2="263.59999999999997" stroke="#444" stroke-width="0.7"/>
<line x1="85.5" y1="266.4" x2="85.5" y2="261.7" stroke="#444" stroke-width="0.7"/>
<line x1="97.5" y1="266.4" x2="97.5" y2="263.59999999999997" stroke="#444" stroke-width="0.7"/>
<line x1="110.5" y1="266.4" x2="110.5" y2="263.59999999999997" stroke="#444" stroke-width="0.7"/>
<line x1="122.5" y1="266.4" x2="122.5" y2="263.59999999999997" stroke="#444" stroke-width="0.7"/>
<line x1="135.5" y1="266.4" x2="135.5" y2="263.59999999999997" stroke="#444" stroke-width="0.7"/>
<line x1="148.5" y1="266.4" x2="148.5" y2="261.7" stroke="#444" stroke-width="0.7"/>
<line x1="160.5" y1="266.4" x2="160.5" y2="263.59999999999997" stroke="#444" stroke-width="0.7"/>
<line x1="173.5" y1="266.4" x2="173.5" y2="263.59999999999997" stroke="#444" stroke-width="0.7"/>
<line x1="186.5" y1="266.4" x2="186.5" y2="263.59999999999997" stroke="#444" stroke-width="0.7"/>
<line x1="198.5" y1="266.4" x2="198.5" y2="263.59999999999997" stroke="#444" stroke-width="0.7"/>
<line x1="211.5" y1="266.4" x2="211.5" y2="261.7" stroke="#444" stroke-width="0.7"/>
<line x1="223.5" y1="266.4" x2="223.5" y2="263.59999999999997" stroke="#444" stroke-width="0.7"/>
<line x1="236.5" y1="266.4" x2="236.5" y2="263.59999999999997" stroke="#444" stroke-width="0.7"/>
<line x1="249.5" y1="266.4" x2="249.5" y2="263.59999999999997" stroke="#444" stroke-width="0.7"/>
<line x1="261.5" y1="266.4" x2="261.5" y2="263.59999999999997" stroke="#444" stroke-width="0.7"/>
<line x1="274.5" y1="266.4" x2="274.5" y2="261.7" stroke="#444" stroke-width="0.7"/>
<line x1="287.5" y1="266.4" x2="287.5" y2="263.59999999999997" stroke="#444" stroke-width="0.7"/>
<line x1="299.5" y1="266.4" x2="299.5" y2="263.59999999999997" stroke="#444" stroke-width="0.7"/>
<line x1="312.5" y1="266.4" x2="312.5" y2="263.59999999999997" stroke="#444" stroke-width="0.7"/>
<line x1="324.5" y1="266.4" x2="324.5" y2="263.59999999999997" stroke="#444" stroke-width="0.7"/>
<line x1="337.5" y1="266.4" x2="337.5" y2="261.7" stroke="#444" stroke-width="0.7"/>
<line x1="350.5" y1="266.4" x2="350.5" y2="263.59999999999997" stroke="#444" stroke-width="0.7"/>
<line x1="362.5" y1="266.4" x2="362.5" y2="263.59999999999997" stroke="#444" stroke-width="0.7"/>
<line x1="375.5" y1="266.4" x2="375.5" y2="263.59999999999997" stroke="#444" stroke-width="0.7"/>
<line x1="388.5" y1="266.4" x2="388.5" y2="263.59999999999997" stroke="#444" stroke-width="0.7"/>
<line x1="400.5" y1="266.4" x2="400.5" y2="261.7" stroke="#444" stroke-width="0.7"/>
<line x1="22.0" y1="254.5" x2="24.8" y2="254.5" stroke="#444" stroke-width="0.7"/>
<line x1="22.0" y1="243.5" x2="24.8" y2="243.5" stroke="#444" stroke-width="0.7"/>
<line x1="22.0" y1="232.5" x2="24.8" y2="232.5" stroke="#444" stroke-width="0.7"/>
<line x1="22.0" y1="220.5" x2="26.7" y2="220.5" stroke="#444" stroke-width="0.7"/>
<line x1="22.0" y1="209.5" x2="24.8" y2="209.5" stroke="#444" stroke-width="0.7"/>
<line x1="22.0" y1="197.5" x2="24.8" y2="197.5" stroke="#444" stroke-width="0.7"/>
<line x1="22.0" y1="186.5" x2="24.8" y2="186.5" stroke="#444" stroke-width="0.7"/>
<line x1="22.0" y1="175.5" x2="26.7" y2="175.5" stroke="#444" stroke-width="0.7"/>
<line x1="22.0" y1="163.5" x2="24.8" y2="163.5" stroke="#444" stroke-width="0.7"/>
<line x1="22.0" y1="152.5" x2="24.8" y2="152.5" stroke="#444" stroke-width="0.7"/>
<line x1="22.0" y1="140.5" x2="24.8" y2="140.5" stroke="#444" stroke-width="0.7"/>
<line x1="22.0" y1="129.5" x2="26.7" y2="129.5" stroke="#444" stroke-width="0.7"/>
<line x1="22.0" y1="117.5" x2="24.8" y2="117.5" stroke="#444" stroke-width="0.7"/>
<line x1="22.0" y1="106.5" x2="24.8" y2="106.5" stroke="#444" stroke-width="0.7"/>
<line x1="22.0" y1="95.5" x2="24.8" y2="95.5" stroke="#444" stroke-width="0.7"/>
<line x1="22.0" y1="83.5" x2="26.7" y2="83.5" stroke="#444" stroke-width="0.7"/>
<line x1="22.0" y1="72.5" x2="24.8" y2="72.5" stroke="#444" stroke-width="0.7"/>
<line x1="22.0" y1="60.5" x2="24.8" y2="60.5" stroke="#444" stroke-width="0.7"/>
<line x1="22.0" y1="49.5" x2="24.8" y2="49.5" stroke="#444" stroke-width="0.7"/>
<line x1="22.0" y1="37.5" x2="26.7" y2="37.5" stroke="#444" stroke-width="0.7"/>
<text x="85.12" y="283.3" text-anchor="middle" font-size="14.3">1</text>
<text x="148.24" y="283.3" text-anchor="middle" font-size="14.3">2</text>
<text x="211.36" y="283.3" text-anchor="middle" font-size="14.3">3</text>
<text x="274.48" y="283.3" text-anchor="middle" font-size="14.3">4</text>
<text x="337.60" y="283.3" text-anchor="middle" font-size="14.3">5</text>
<text x="400.72" y="283.3" text-anchor="middle" font-size="14.3">6</text>
<text x="18.4" y="225.82" text-anchor="end" font-size="14.4">0.2</text>
<text x="18.4" y="180.14" text-anchor="end" font-size="14.4">0.4</text>
<text x="18.4" y="134.46" text-anchor="end" font-size="14.4">0.6</text>
<text x="18.4" y="88.78" text-anchor="end" font-size="14.4">0.8</text>
<text x="18.4" y="43.10" text-anchor="end" font-size="14.4">1.0</text>
<text x="5.5" y="16.6" font-size="17">C</text>
<text x="17.4" y="16.6" font-size="17">[</text>
<text transform="translate(23.6,16.6) scale(1.22,1)" font-size="17" font-style="italic">ρ</text>
<text x="33.4" y="16.6" font-size="17">]</text>
<text x="418.8" y="272.5" font-size="17">Γ<tspan font-size="12" dy="3.7">0</tspan><tspan dy="-3.7">t</tspan></text>
</svg>
</body></html>
